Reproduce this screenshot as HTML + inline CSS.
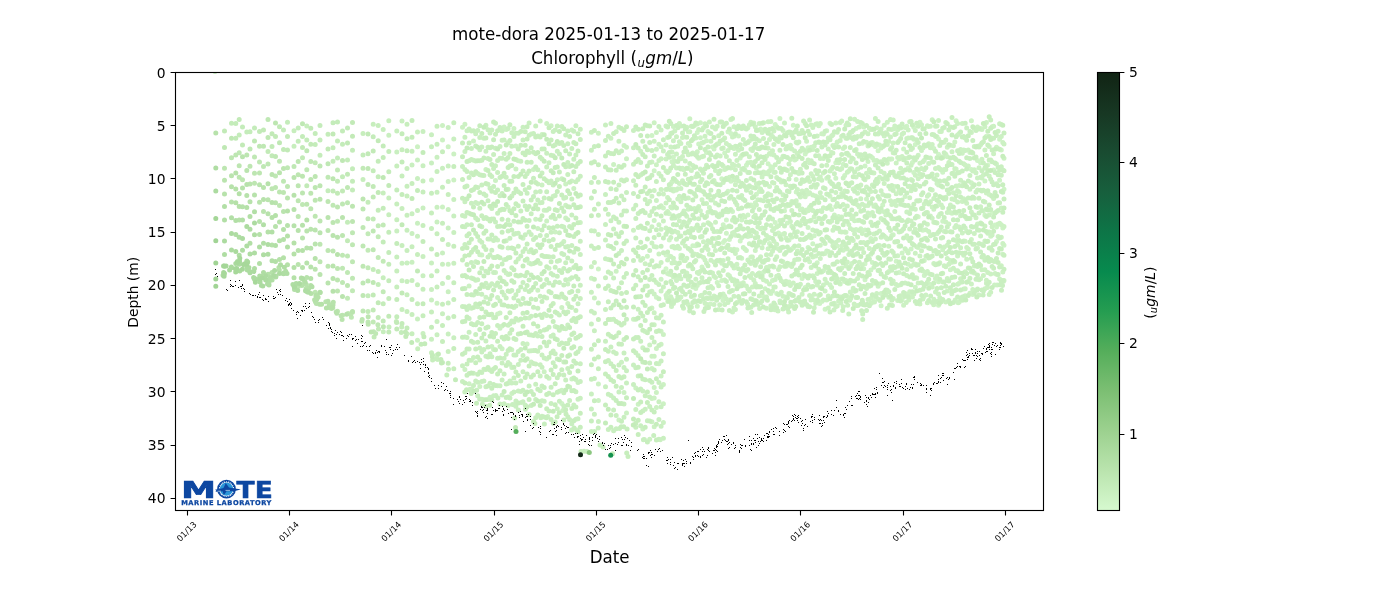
<!DOCTYPE html>
<html lang="en"><head><meta charset="utf-8"><title>mote-dora Chlorophyll</title>
<style>html,body{margin:0;padding:0;background:#fff}svg{display:block}text{font-family:"DejaVu Sans","Liberation Sans",sans-serif;fill:#000}.i{font-style:oblique}.lg{font-family:"Liberation Sans","DejaVu Sans",sans-serif;font-weight:bold;fill:#0d47a1}</style></head><body>
<svg width="1400" height="600" viewBox="0 0 1400 600">
<rect width="1400" height="600" fill="#fff"/>
<defs><linearGradient id="cg" x1="0" y1="1" x2="0" y2="0"><stop offset="0.0000" stop-color="rgb(214,249,207)"/><stop offset="0.0909" stop-color="rgb(186,228,174)"/><stop offset="0.1818" stop-color="rgb(156,209,143)"/><stop offset="0.2727" stop-color="rgb(124,191,115)"/><stop offset="0.3636" stop-color="rgb(85,174,91)"/><stop offset="0.4545" stop-color="rgb(37,157,81)"/><stop offset="0.5455" stop-color="rgb(7,138,78)"/><stop offset="0.6364" stop-color="rgb(13,117,71)"/><stop offset="0.7273" stop-color="rgb(23,95,61)"/><stop offset="0.8182" stop-color="rgb(25,75,49)"/><stop offset="0.9091" stop-color="rgb(23,55,35)"/><stop offset="1.0000" stop-color="rgb(17,36,20)"/></linearGradient><clipPath id="ac"><rect x="175.5" y="72.5" width="868" height="438"/></clipPath></defs>
<g clip-path="url(#ac)" fill="none" stroke-linecap="round" stroke-width="5">
<path stroke="rgb(209,245,201)" d="M666.0 254.9h0M666.0 268.8h0M669.3 240.1h0M680.9 255.2h0M712.5 200.0h0M723.2 242.5h0M726.4 220.1h0M728.0 226.7h0M857.6 220.4h0M865.0 263.8h0M873.9 297.8h0M918.2 216.8h0M938.5 154.2h0M986.4 136.2h0M987.8 165.1h0M992.1 212.8h0"/>
<path stroke="rgb(206,243,198)" d="M481.8 254.9h0M529.1 263.1h0M561.8 403.4h0M598.4 269.0h0M647.4 256.3h0M651.9 135.4h0M654.2 170.7h0M654.2 220.5h0M656.4 297.3h0M661.1 279.3h0M663.4 208.1h0M669.3 170.7h0M669.3 213.7h0M669.3 255.9h0M672.0 161.7h0M672.0 189.1h0M672.0 207.9h0M673.4 156.9h0M679.4 248.5h0M679.4 299.0h0M683.9 169.7h0M692.8 184.3h0M692.8 245.7h0M695.8 245.7h0M695.8 288.6h0M697.3 132.4h0M697.3 306.3h0M698.7 144.1h0M700.4 122.7h0M700.4 137.8h0M700.4 210.8h0M702.0 199.7h0M702.0 267.0h0M706.5 140.7h0M706.5 152.6h0M708.0 131.6h0M709.4 207.4h0M710.2 304.1h0M712.5 146.9h0M714.0 149.0h0M715.5 183.6h0M715.5 238.6h0M717.2 282.6h0M718.7 143.7h0M721.8 178.8h0M721.8 280.6h0M721.8 296.5h0M723.2 224.7h0M723.0 300.4h0M724.7 152.9h0M724.7 240.5h0M726.4 233.2h0M728.0 131.7h0M728.0 191.2h0M729.4 239.4h0M730.9 133.6h0M730.9 181.3h0M732.5 211.4h0M736.9 249.7h0M738.5 136.0h0M740.2 158.1h0M740.2 241.1h0M741.7 220.1h0M741.7 258.2h0M744.9 143.9h0M746.4 165.3h0M747.9 214.9h0M747.9 236.4h0M749.4 140.8h0M750.9 205.0h0M750.9 256.9h0M755.3 202.8h0M756.4 168.1h0M756.4 194.2h0M757.9 186.5h0M759.3 191.4h0M760.6 128.9h0M763.5 272.3h0M763.5 296.6h0M765.1 288.7h0M768.1 163.8h0M769.5 139.5h0M769.5 186.4h0M769.5 237.6h0M769.5 243.4h0M770.9 154.3h0M770.9 166.7h0M770.9 293.5h0M772.5 167.9h0M772.5 280.4h0M773.9 172.2h0M773.9 267.1h0M775.2 124.5h0M775.2 222.4h0M776.7 293.6h0M778.5 232.9h0M779.9 118.4h0M779.9 179.7h0M783.0 234.2h0M784.5 210.8h0M786.0 206.2h0M787.4 223.1h0M789.0 240.1h0M789.0 281.9h0M790.4 145.2h0M790.4 294.3h0M791.8 249.1h0M793.3 125.2h0M793.3 247.7h0M794.7 159.9h0M796.2 179.6h0M796.2 191.9h0M798.9 224.1h0M802.1 278.5h0M803.6 181.6h0M805.2 154.1h0M805.2 287.6h0M808.1 147.8h0M808.1 227.4h0M808.1 247.6h0M809.6 261.7h0M812.8 243.7h0M814.2 235.7h0M817.2 262.7h0M818.8 125.7h0M819.7 303.6h0M821.8 301.6h0M825.1 253.5h0M825.1 291.1h0M825.1 309.2h0M826.7 130.7h0M826.7 178.2h0M826.7 250.9h0M830.0 123.2h0M830.0 196.3h0M830.0 284.8h0M831.6 168.9h0M831.6 209.5h0M832.9 134.8h0M832.9 184.2h0M834.4 303.3h0M835.8 145.1h0M835.8 162.7h0M835.8 178.3h0M837.2 246.1h0M838.6 216.4h0M843.2 148.4h0M843.2 164.3h0M844.7 175.5h0M846.0 153.4h0M846.0 232.3h0M847.3 296.5h0M848.8 170.9h0M848.8 298.3h0M851.8 263.4h0M856.1 128.4h0M856.1 229.4h0M857.6 168.9h0M859.2 207.0h0M860.8 228.8h0M862.3 143.2h0M863.7 127.1h0M863.7 268.7h0M865.0 165.9h0M865.0 230.0h0M865.0 279.8h0M866.5 199.1h0M869.4 215.3h0M870.9 238.6h0M870.9 270.1h0M872.4 262.4h0M873.9 283.2h0M878.1 150.8h0M881.1 293.6h0M881.1 305.8h0M882.7 205.0h0M885.8 277.6h0M888.8 271.5h0M890.5 159.2h0M891.8 159.1h0M891.8 218.7h0M893.2 234.7h0M894.8 186.5h0M896.2 241.7h0M896.2 261.2h0M899.1 140.7h0M899.1 272.6h0M902.1 253.1h0M902.1 299.7h0M903.6 149.1h0M905.1 196.6h0M906.8 126.3h0M906.8 250.8h0M908.2 167.9h0M908.2 264.2h0M911.1 179.5h0M911.1 248.9h0M910.1 295.1h0M912.4 162.6h0M913.8 127.3h0M913.8 172.6h0M915.3 144.6h0M915.3 287.3h0M916.7 278.0h0M918.2 247.4h0M919.9 122.3h0M922.9 230.2h0M924.3 160.2h0M924.3 238.8h0M924.3 260.6h0M924.3 275.4h0M923.5 296.9h0M927.4 125.8h0M930.4 284.5h0M933.8 148.4h0M937.0 136.8h0M937.0 205.9h0M937.0 233.8h0M938.5 139.0h0M938.5 281.7h0M938.5 305.2h0M939.8 156.3h0M939.8 168.9h0M939.8 214.2h0M942.7 172.2h0M942.7 221.3h0M942.7 249.8h0M944.2 231.3h0M950.4 212.4h0M950.4 269.7h0M954.8 142.0h0M956.1 120.8h0M956.1 169.1h0M959.2 133.5h0M959.2 185.4h0M959.2 192.2h0M959.2 283.3h0M959.2 301.9h0M969.9 152.4h0M971.4 120.7h0M971.4 169.4h0M971.4 182.7h0M971.4 239.6h0M972.7 294.5h0M977.5 160.6h0M977.5 207.6h0M980.6 144.8h0M980.6 162.7h0M980.6 278.7h0M981.9 244.2h0M983.4 210.9h0M984.9 181.1h0M984.9 215.2h0M990.7 236.3h0M992.1 126.8h0M993.6 170.0h0M995.1 225.0h0M995.1 261.4h0M996.5 147.3h0M996.5 164.0h0M996.5 211.7h0M996.5 227.1h0M996.5 241.6h0M999.6 139.2h0M999.6 180.3h0M1001.3 149.9h0M1002.8 228.1h0M1004.0 189.2h0M1004.0 245.2h0"/>
<path stroke="rgb(204,241,195)" d="M417.5 146.8h0M417.5 340.3h0M431.5 180.0h0M437.0 303.3h0M437.0 354.9h0M437.7 359.5h0M442.5 125.4h0M442.5 140.0h0M442.5 207.0h0M448.2 146.7h0M448.2 264.3h0M453.8 154.1h0M453.8 180.1h0M462.5 127.3h0M464.9 124.3h0M464.9 369.4h0M469.1 285.9h0M469.1 383.7h0M473.5 141.1h0M475.7 261.8h0M479.8 160.7h0M479.8 254.7h0M479.8 386.4h0M485.9 169.4h0M485.9 297.3h0M491.8 346.4h0M493.6 317.8h0M493.6 349.4h0M495.5 180.5h0M495.5 272.4h0M497.6 240.1h0M497.6 297.5h0M497.6 314.0h0M497.6 385.7h0M500.0 313.0h0M500.0 328.3h0M502.1 325.9h0M502.1 348.8h0M504.1 127.1h0M504.1 259.8h0M504.1 294.9h0M506.2 129.4h0M506.2 240.8h0M506.2 272.9h0M508.1 207.0h0M508.1 247.9h0M508.1 274.5h0M511.8 349.8h0M511.8 367.6h0M511.8 393.6h0M513.9 128.6h0M513.9 307.6h0M515.9 146.0h0M515.9 168.9h0M518.3 160.7h0M518.3 258.9h0M518.3 320.2h0M521.4 402.5h0M523.0 238.3h0M527.1 343.9h0M529.1 251.7h0M529.1 318.1h0M529.1 414.4h0M531.2 134.1h0M531.2 361.9h0M533.5 169.5h0M535.7 219.2h0M537.8 228.5h0M537.8 290.3h0M540.2 263.6h0M542.0 134.5h0M542.0 185.0h0M544.2 210.2h0M544.2 371.7h0M546.7 123.5h0M546.7 221.1h0M546.7 297.9h0M546.7 358.9h0M549.0 268.2h0M549.0 378.3h0M547.8 416.5h0M551.1 125.8h0M553.2 196.3h0M555.2 231.9h0M555.2 326.4h0M557.3 179.8h0M557.3 408.7h0M559.4 297.2h0M561.8 178.7h0M561.8 307.4h0M561.8 390.2h0M562.8 410.6h0M563.8 241.4h0M565.7 184.0h0M565.7 205.2h0M565.7 218.0h0M567.8 284.1h0M567.8 303.4h0M569.6 279.2h0M571.8 130.0h0M571.8 181.0h0M571.8 307.6h0M571.8 379.1h0M573.8 188.5h0M576.7 429.9h0M580.3 222.6h0M591.4 266.7h0M591.4 278.3h0M594.4 298.1h0M598.4 133.3h0M598.4 384.0h0M598.4 400.5h0M608.3 259.4h0M610.9 138.3h0M613.6 164.4h0M616.2 271.3h0M618.9 420.1h0M621.5 362.2h0M624.0 145.6h0M624.0 392.6h0M626.5 147.2h0M626.5 158.8h0M626.5 413.0h0M633.5 230.3h0M633.5 319.3h0M635.8 388.1h0M638.2 404.3h0M640.7 151.3h0M640.7 174.9h0M642.8 258.6h0M642.8 347.8h0M642.8 429.1h0M645.2 263.7h0M645.2 331.4h0M644.4 439.4h0M647.4 125.7h0M649.7 201.2h0M649.7 215.4h0M649.7 344.9h0M649.7 439.3h0M651.9 162.0h0M651.9 196.2h0M651.9 226.7h0M651.9 243.1h0M651.9 291.2h0M651.9 308.0h0M651.9 356.2h0M651.9 368.4h0M651.9 398.5h0M651.9 421.8h0M654.2 122.7h0M654.2 141.2h0M654.2 190.5h0M654.2 246.6h0M654.2 267.1h0M654.2 294.1h0M654.2 312.8h0M654.2 324.7h0M654.2 356.3h0M654.2 387.6h0M654.2 398.0h0M654.2 426.8h0M656.4 132.5h0M656.4 149.3h0M656.4 164.8h0M656.4 200.6h0M656.4 247.1h0M656.4 282.5h0M656.4 348.4h0M656.4 392.4h0M656.4 407.4h0M658.9 144.3h0M658.9 160.5h0M658.9 173.4h0M658.9 224.8h0M658.9 254.1h0M658.9 265.9h0M658.9 363.7h0M661.1 130.0h0M661.1 146.8h0M661.1 158.8h0M661.1 189.4h0M661.1 205.7h0M661.1 229.3h0M661.1 262.5h0M661.1 290.9h0M661.1 331.3h0M661.1 344.2h0M661.1 376.0h0M660.2 439.8h0M663.4 150.9h0M663.4 194.0h0M663.4 221.0h0M663.4 287.0h0M663.4 334.4h0M663.4 384.6h0M663.4 403.8h0M663.4 422.5h0M666.0 125.9h0M666.0 145.0h0M666.0 159.0h0M666.0 170.9h0M666.0 189.5h0M666.0 203.0h0M666.0 228.1h0M666.0 295.2h0M666.5 298.0h0M667.6 137.6h0M667.6 197.5h0M667.6 211.5h0M667.6 260.1h0M667.6 273.4h0M667.6 293.0h0M667.8 301.4h0M669.3 274.2h0M669.3 300.4h0M670.8 133.5h0M670.8 146.9h0M670.8 183.7h0M670.8 206.9h0M670.8 237.6h0M670.8 256.4h0M670.8 296.8h0M671.5 306.6h0M672.0 151.9h0M672.0 181.8h0M672.0 246.8h0M672.0 263.0h0M672.0 275.1h0M672.0 299.3h0M673.4 126.5h0M673.4 140.8h0M673.4 165.4h0M673.4 191.0h0M673.4 246.5h0M673.4 258.3h0M673.4 277.1h0M673.4 288.5h0M673.4 303.5h0M674.8 131.0h0M674.8 161.3h0M674.8 179.4h0M674.8 189.4h0M674.8 231.2h0M674.8 247.9h0M674.8 262.5h0M676.5 136.7h0M676.5 154.1h0M676.5 168.0h0M676.5 190.0h0M676.5 239.2h0M676.5 247.8h0M676.5 280.6h0M677.8 146.2h0M677.8 188.8h0M677.8 199.1h0M677.8 216.2h0M677.8 232.4h0M677.8 246.3h0M677.8 264.0h0M677.8 277.0h0M677.8 299.9h0M679.4 123.5h0M679.4 141.7h0M679.4 158.6h0M679.4 183.4h0M679.4 196.3h0M679.4 220.7h0M679.4 289.2h0M680.9 125.9h0M680.9 143.4h0M680.9 158.8h0M680.9 168.9h0M680.9 188.4h0M680.9 201.8h0M680.9 235.9h0M680.9 278.7h0M680.9 296.9h0M682.5 137.4h0M682.5 156.5h0M682.5 168.3h0M682.5 180.8h0M682.5 224.8h0M682.5 243.0h0M683.9 137.0h0M683.9 211.1h0M683.9 260.4h0M683.5 308.2h0M685.3 161.1h0M685.3 184.3h0M685.3 245.9h0M685.3 260.5h0M685.3 302.8h0M686.8 127.2h0M686.8 184.8h0M686.8 216.2h0M686.8 258.3h0M686.8 273.1h0M686.8 286.5h0M688.3 131.7h0M688.3 143.5h0M688.3 154.8h0M688.3 168.2h0M688.3 179.3h0M688.3 198.1h0M688.3 209.2h0M688.3 222.4h0M688.3 266.0h0M688.3 279.4h0M688.3 304.6h0M689.8 118.8h0M689.8 131.7h0M689.8 145.6h0M689.8 207.4h0M691.4 126.2h0M691.4 170.5h0M691.4 192.0h0M691.4 228.5h0M691.4 236.8h0M692.8 152.9h0M692.8 165.4h0M692.8 286.9h0M694.4 125.6h0M694.4 153.7h0M694.4 208.6h0M694.4 254.0h0M695.8 137.9h0M695.8 176.8h0M695.8 227.7h0M695.8 260.5h0M695.8 279.2h0M695.8 301.8h0M697.3 124.1h0M697.3 151.7h0M697.3 243.9h0M697.3 254.4h0M697.3 272.5h0M697.3 285.5h0M698.7 129.5h0M698.7 158.3h0M698.7 187.0h0M698.7 206.6h0M698.7 218.7h0M698.7 230.6h0M698.7 273.5h0M698.7 283.4h0M700.4 169.1h0M700.4 181.7h0M700.4 237.1h0M700.4 255.8h0M700.4 271.2h0M700.4 295.7h0M702.0 143.1h0M702.0 156.8h0M702.0 236.4h0M702.0 277.7h0M702.0 295.2h0M703.5 127.7h0M703.5 142.3h0M703.5 156.2h0M703.5 173.3h0M703.5 224.8h0M703.5 241.7h0M703.5 257.6h0M705.0 123.7h0M705.0 136.3h0M705.0 247.5h0M705.0 260.0h0M705.0 303.2h0M706.5 165.2h0M706.5 203.4h0M706.5 216.2h0M706.5 263.3h0M706.5 298.0h0M706.4 304.2h0M708.0 183.8h0M708.0 212.3h0M708.0 222.8h0M708.0 249.4h0M709.4 122.1h0M709.4 133.1h0M709.4 241.9h0M709.4 254.2h0M710.9 141.3h0M710.9 224.9h0M710.9 260.2h0M710.9 272.3h0M710.9 286.6h0M712.5 126.9h0M712.5 273.0h0M712.5 288.2h0M712.2 298.9h0M714.0 180.5h0M714.0 212.6h0M714.0 246.0h0M714.0 262.1h0M714.0 276.2h0M714.0 295.9h0M714.0 304.5h0M715.5 129.0h0M715.5 170.6h0M715.5 203.3h0M715.5 212.8h0M715.5 222.2h0M715.5 250.4h0M715.5 277.5h0M717.2 126.2h0M717.2 144.0h0M717.2 155.1h0M717.2 194.8h0M717.2 231.4h0M717.2 297.9h0M718.7 135.8h0M718.7 216.8h0M718.7 261.0h0M718.7 285.8h0M718.7 309.5h0M720.2 122.1h0M720.2 156.0h0M720.2 214.1h0M719.7 304.8h0M721.8 263.2h0M723.2 148.1h0M723.2 166.1h0M723.2 182.5h0M723.2 260.4h0M723.2 270.6h0M723.2 294.0h0M724.7 124.6h0M724.7 138.0h0M724.7 169.4h0M724.7 211.7h0M724.7 227.4h0M724.7 280.0h0M724.7 296.3h0M724.7 304.5h0M726.4 143.6h0M726.4 156.4h0M726.4 168.4h0M726.4 299.1h0M728.0 150.4h0M728.0 211.8h0M728.0 274.8h0M728.0 302.5h0M729.4 145.5h0M729.4 177.3h0M729.4 198.3h0M729.4 249.4h0M729.4 275.7h0M729.4 292.0h0M730.9 119.4h0M730.9 168.0h0M730.9 209.6h0M730.9 249.6h0M732.5 137.1h0M732.5 147.5h0M732.5 164.2h0M732.5 220.2h0M732.5 232.9h0M732.5 290.5h0M732.5 311.9h0M734.0 126.8h0M734.0 136.2h0M734.0 148.4h0M734.0 165.2h0M734.0 180.1h0M734.0 232.2h0M734.0 249.3h0M734.0 267.9h0M734.0 279.8h0M734.0 296.2h0M734.0 308.1h0M735.4 146.2h0M735.4 154.2h0M735.4 169.8h0M735.4 184.7h0M735.4 235.3h0M735.4 253.6h0M735.4 265.7h0M735.4 284.6h0M735.4 309.5h0M736.9 160.6h0M736.9 204.7h0M736.9 264.3h0M736.9 302.5h0M738.5 150.3h0M738.5 165.4h0M738.5 181.1h0M738.5 197.1h0M740.2 283.8h0M741.7 155.6h0M741.7 169.3h0M741.7 195.6h0M741.7 237.8h0M743.3 139.4h0M743.3 184.4h0M743.3 199.3h0M743.3 215.4h0M743.3 247.4h0M743.3 282.7h0M744.9 128.0h0M744.9 169.9h0M744.9 216.9h0M744.9 249.1h0M746.4 234.7h0M746.4 250.5h0M746.4 285.9h0M747.6 304.0h0M747.9 127.7h0M747.9 162.8h0M747.9 172.5h0M747.9 187.8h0M747.9 260.0h0M747.9 288.8h0M749.4 124.7h0M749.4 156.7h0M749.4 206.1h0M749.4 243.7h0M749.4 276.0h0M749.4 290.9h0M750.9 122.2h0M750.9 149.3h0M750.9 162.2h0M750.9 178.6h0M750.9 235.8h0M750.9 263.4h0M750.9 277.6h0M750.9 307.3h0M752.4 150.4h0M752.4 164.9h0M752.4 187.5h0M752.4 257.1h0M752.4 273.4h0M752.4 287.1h0M753.8 122.9h0M753.8 207.5h0M753.8 217.1h0M753.8 279.9h0M755.3 126.7h0M755.3 173.0h0M755.3 215.2h0M755.3 250.5h0M755.3 283.5h0M756.4 183.8h0M756.4 205.0h0M756.4 233.1h0M756.4 262.5h0M757.9 199.8h0M757.9 226.9h0M759.3 123.4h0M759.3 140.7h0M759.3 272.9h0M759.3 296.1h0M759.6 308.5h0M760.6 147.8h0M760.6 188.9h0M760.6 228.8h0M760.6 241.9h0M760.6 256.8h0M762.1 132.4h0M762.1 177.0h0M762.1 228.1h0M762.1 247.8h0M762.1 261.5h0M763.5 122.7h0M763.5 138.5h0M763.5 171.9h0M763.5 214.9h0M763.5 243.0h0M763.5 279.7h0M765.1 173.7h0M765.1 184.8h0M765.1 196.7h0M765.1 298.2h0M766.5 131.2h0M766.5 156.3h0M766.5 172.7h0M766.5 206.1h0M766.5 235.6h0M766.5 254.8h0M766.5 267.6h0M766.5 281.2h0M766.5 297.1h0M766.4 308.2h0M768.1 121.8h0M768.1 148.2h0M768.1 174.0h0M768.1 193.8h0M768.1 238.6h0M768.1 248.7h0M769.5 153.5h0M769.5 170.7h0M769.5 266.6h0M769.5 284.1h0M769.5 292.4h0M770.9 121.4h0M770.9 134.7h0M770.9 194.9h0M770.9 225.4h0M770.9 254.5h0M770.9 305.7h0M772.5 136.4h0M772.5 150.8h0M772.5 182.4h0M772.5 219.1h0M772.5 230.4h0M772.5 251.2h0M772.5 290.9h0M773.9 131.1h0M773.9 144.4h0M773.9 155.1h0M773.9 183.0h0M773.9 201.8h0M773.9 210.4h0M773.9 228.7h0M773.9 241.3h0M773.9 286.9h0M774.2 307.7h0M775.2 164.8h0M775.2 172.3h0M775.2 247.0h0M775.2 279.5h0M775.2 287.0h0M775.2 305.1h0M774.9 309.7h0M776.7 126.7h0M776.7 177.4h0M776.7 187.5h0M776.7 207.7h0M776.7 226.9h0M776.7 244.3h0M776.7 256.7h0M776.7 276.3h0M778.5 141.4h0M778.5 225.7h0M778.5 248.9h0M778.5 269.5h0M778.5 275.3h0M778.0 311.1h0M779.9 220.5h0M779.9 250.5h0M779.9 266.7h0M779.9 301.1h0M781.3 159.0h0M781.3 181.9h0M781.3 200.3h0M781.3 280.7h0M781.3 292.3h0M783.0 130.4h0M783.0 156.3h0M783.0 194.7h0M783.0 261.7h0M783.0 281.9h0M783.0 296.2h0M784.5 123.0h0M784.5 169.1h0M784.5 199.4h0M784.5 233.4h0M784.5 254.3h0M786.0 149.1h0M786.0 184.8h0M786.0 237.9h0M786.0 266.2h0M786.0 281.3h0M786.0 297.0h0M787.4 146.6h0M787.4 170.4h0M787.4 283.8h0M789.0 132.0h0M789.0 148.0h0M789.0 164.1h0M789.0 205.4h0M789.0 250.2h0M789.0 264.1h0M789.0 306.5h0M788.6 312.1h0M790.4 159.6h0M790.4 174.7h0M790.4 186.2h0M790.4 221.6h0M790.4 265.5h0M790.4 285.5h0M791.8 149.0h0M791.8 201.6h0M791.8 210.4h0M791.8 226.3h0M791.8 237.3h0M791.8 266.5h0M791.8 295.1h0M793.3 171.4h0M793.3 214.8h0M793.3 283.0h0M794.7 151.0h0M794.7 186.2h0M794.7 203.1h0M794.7 259.9h0M796.2 142.2h0M796.2 159.1h0M796.2 200.8h0M796.2 300.0h0M797.4 153.6h0M797.4 172.5h0M797.4 189.5h0M797.4 231.8h0M797.4 251.0h0M797.4 259.3h0M797.4 271.3h0M797.4 300.6h0M798.9 173.5h0M798.9 204.9h0M798.9 245.7h0M798.9 259.3h0M800.4 169.3h0M800.4 197.0h0M800.4 209.7h0M800.4 284.2h0M802.1 190.9h0M802.1 208.9h0M802.1 220.7h0M802.1 294.2h0M803.6 274.4h0M805.2 196.7h0M805.2 212.5h0M805.2 238.7h0M806.6 141.2h0M806.6 151.5h0M806.6 190.3h0M806.6 209.9h0M806.6 221.5h0M806.6 276.3h0M808.1 160.0h0M808.1 194.1h0M808.1 210.8h0M809.6 120.1h0M809.6 162.8h0M809.6 181.5h0M809.6 192.8h0M809.6 207.3h0M809.6 295.5h0M811.2 125.0h0M811.2 147.3h0M811.2 160.7h0M811.2 173.7h0M811.2 209.2h0M811.2 220.3h0M811.2 237.7h0M811.2 267.4h0M811.2 296.6h0M811.0 300.0h0M812.8 127.6h0M812.8 149.4h0M812.8 176.3h0M812.8 195.1h0M812.8 210.6h0M812.8 230.0h0M812.8 256.9h0M812.8 275.7h0M812.8 299.6h0M814.2 146.1h0M814.2 216.7h0M814.2 294.2h0M814.2 307.7h0M815.7 124.2h0M815.7 187.3h0M815.7 196.1h0M815.7 249.7h0M815.7 255.9h0M815.7 281.6h0M815.7 303.2h0M817.2 123.7h0M817.2 135.9h0M817.2 231.1h0M817.2 273.6h0M817.2 284.9h0M817.2 300.0h0M818.8 155.7h0M818.8 178.8h0M818.8 197.4h0M818.8 269.2h0M818.8 295.5h0M820.3 123.6h0M820.3 142.8h0M820.3 158.4h0M820.3 177.0h0M820.3 192.7h0M820.3 210.7h0M820.3 218.9h0M820.3 245.3h0M820.3 258.5h0M820.3 287.7h0M821.8 133.7h0M821.8 180.3h0M821.8 197.4h0M821.8 211.6h0M821.8 272.0h0M823.4 133.9h0M823.4 158.6h0M823.4 173.1h0M823.4 187.7h0M823.4 207.7h0M823.4 253.9h0M823.4 270.8h0M823.4 285.0h0M823.4 300.1h0M825.1 243.4h0M825.1 279.3h0M826.7 165.2h0M826.7 193.9h0M826.7 208.5h0M826.7 267.9h0M826.7 282.7h0M826.7 300.0h0M828.3 138.1h0M828.3 149.0h0M828.3 237.9h0M828.3 251.6h0M828.3 296.1h0M828.3 308.0h0M830.0 170.9h0M830.0 205.8h0M830.0 222.3h0M831.6 135.9h0M831.6 152.5h0M831.6 220.9h0M831.6 272.8h0M831.6 287.4h0M831.6 304.1h0M832.9 145.4h0M832.9 153.1h0M832.9 199.7h0M832.9 230.2h0M832.9 245.7h0M832.9 264.3h0M834.4 173.8h0M834.4 215.1h0M834.4 227.0h0M833.9 310.1h0M835.8 123.0h0M835.8 192.6h0M835.8 206.5h0M835.8 228.0h0M835.8 242.5h0M835.8 306.8h0M837.2 142.0h0M837.2 203.6h0M837.2 261.7h0M837.2 305.9h0M838.6 162.8h0M838.6 228.2h0M838.6 240.3h0M838.6 300.9h0M840.2 122.4h0M840.2 140.6h0M840.2 169.6h0M840.2 231.7h0M840.2 283.9h0M840.2 297.1h0M840.9 302.9h0M841.7 120.9h0M841.7 136.2h0M841.7 168.5h0M841.7 193.6h0M841.7 196.5h0M841.7 217.0h0M841.7 232.1h0M841.7 245.8h0M841.7 267.9h0M841.7 279.0h0M843.2 177.9h0M843.2 204.4h0M843.2 250.2h0M843.2 306.7h0M844.7 147.0h0M844.7 190.9h0M844.7 232.0h0M844.7 243.9h0M844.7 281.6h0M844.7 295.5h0M846.0 125.3h0M846.0 138.2h0M846.0 266.0h0M846.0 280.6h0M847.3 172.3h0M847.3 206.1h0M847.3 248.9h0M847.3 261.9h0M847.7 305.2h0M848.8 155.2h0M848.8 224.4h0M848.8 254.4h0M848.8 283.2h0M850.3 132.4h0M850.3 161.8h0M850.3 168.7h0M850.3 198.2h0M850.3 214.7h0M850.3 228.4h0M850.3 266.4h0M850.3 292.0h0M849.8 300.3h0M851.8 218.8h0M851.8 281.0h0M850.7 298.6h0M853.2 139.2h0M853.2 158.9h0M853.2 188.9h0M853.2 216.5h0M853.2 229.9h0M853.2 240.6h0M853.2 288.2h0M854.6 119.3h0M854.6 203.4h0M854.6 220.7h0M854.6 233.8h0M854.6 291.3h0M854.2 304.1h0M856.1 149.4h0M856.1 177.0h0M856.1 187.2h0M856.1 254.2h0M856.1 297.4h0M856.2 305.6h0M857.6 121.5h0M857.6 136.6h0M857.6 154.1h0M857.6 193.2h0M857.6 205.0h0M857.6 236.9h0M857.6 278.4h0M857.9 305.6h0M859.2 127.1h0M859.2 156.3h0M859.2 188.3h0M859.2 230.5h0M859.2 262.2h0M860.8 136.2h0M860.8 185.1h0M860.8 198.8h0M862.3 204.2h0M862.3 221.4h0M862.3 233.5h0M862.3 248.4h0M862.3 264.7h0M862.3 286.6h0M862.8 302.5h0M863.7 242.5h0M863.7 252.4h0M865.0 132.1h0M865.0 179.7h0M865.0 205.8h0M865.0 242.9h0M866.5 142.2h0M866.5 173.3h0M866.5 186.9h0M866.5 288.4h0M868.0 133.7h0M868.0 146.1h0M868.0 161.4h0M868.0 205.4h0M868.0 213.1h0M868.0 299.4h0M869.4 128.3h0M869.4 169.5h0M869.4 248.6h0M869.4 286.3h0M870.9 129.6h0M870.9 156.4h0M870.9 191.4h0M870.9 222.2h0M870.9 254.3h0M870.9 298.5h0M871.2 303.2h0M872.4 142.5h0M872.4 157.8h0M872.4 172.7h0M872.4 184.9h0M872.4 212.4h0M873.9 144.9h0M873.9 160.3h0M873.9 173.1h0M873.9 206.3h0M873.9 234.1h0M873.9 267.2h0M874.5 301.9h0M875.4 118.4h0M875.4 146.4h0M875.4 205.0h0M875.4 239.0h0M875.4 281.6h0M876.7 127.7h0M876.7 160.5h0M876.7 225.9h0M876.7 293.4h0M878.1 134.0h0M878.1 181.8h0M878.1 245.5h0M878.1 286.2h0M878.1 299.1h0M879.5 145.0h0M879.5 177.3h0M879.5 199.0h0M879.5 231.1h0M879.5 245.5h0M879.5 284.0h0M881.1 129.0h0M881.1 148.0h0M881.1 171.6h0M881.1 190.7h0M881.1 218.5h0M881.1 237.2h0M882.7 146.8h0M882.7 194.4h0M882.7 219.8h0M884.2 125.2h0M884.2 136.1h0M884.2 159.6h0M884.2 173.2h0M884.2 183.6h0M884.2 211.8h0M884.2 236.1h0M884.2 255.2h0M883.9 293.9h0M885.8 132.8h0M885.8 215.0h0M885.8 237.5h0M887.3 122.3h0M887.3 144.6h0M887.3 163.2h0M887.3 196.0h0M887.3 238.9h0M888.8 141.5h0M888.8 159.1h0M888.8 246.3h0M888.8 297.3h0M890.5 119.4h0M890.5 136.9h0M890.5 188.9h0M890.5 200.7h0M890.5 230.4h0M890.5 259.3h0M891.8 129.5h0M891.8 147.4h0M891.8 204.4h0M891.8 235.5h0M893.2 119.9h0M893.2 129.0h0M893.2 143.0h0M893.2 152.8h0M893.2 203.1h0M893.2 266.6h0M893.2 281.1h0M893.2 298.6h0M894.8 125.9h0M894.8 201.4h0M894.8 211.5h0M896.2 133.8h0M896.2 163.1h0M896.2 176.7h0M896.2 193.8h0M896.2 205.4h0M896.2 219.1h0M896.2 284.5h0M897.7 129.8h0M897.7 157.6h0M897.7 200.2h0M897.7 255.7h0M897.7 266.3h0M897.7 285.5h0M897.7 300.6h0M899.1 158.9h0M899.1 173.2h0M899.1 190.0h0M899.1 231.9h0M899.1 246.3h0M900.7 157.3h0M900.7 168.3h0M900.7 178.1h0M900.7 220.1h0M900.7 284.8h0M900.7 295.8h0M902.1 134.3h0M902.1 156.6h0M903.6 132.9h0M903.6 305.2h0M905.1 127.6h0M905.1 158.6h0M905.1 248.7h0M905.1 283.1h0M905.1 293.6h0M906.8 138.4h0M906.8 212.0h0M906.8 235.7h0M906.8 269.6h0M906.8 275.6h0M906.8 294.7h0M906.2 302.5h0M908.2 129.9h0M908.2 138.0h0M908.2 157.8h0M908.2 186.4h0M908.2 219.9h0M908.2 238.6h0M908.2 252.9h0M908.8 300.1h0M909.7 121.7h0M909.7 186.3h0M909.7 197.8h0M909.7 229.0h0M909.7 291.7h0M911.1 137.7h0M911.1 165.2h0M911.1 190.7h0M911.1 209.2h0M911.1 221.1h0M911.1 266.3h0M912.5 296.9h0M913.8 139.2h0M913.8 264.6h0M913.8 293.9h0M915.3 130.4h0M915.3 175.2h0M915.3 209.2h0M915.3 229.2h0M915.3 253.3h0M915.3 264.0h0M915.3 277.7h0M916.7 184.7h0M916.7 200.7h0M916.7 216.2h0M916.7 246.7h0M918.2 155.2h0M918.2 170.6h0M918.2 178.8h0M918.2 283.0h0M919.9 163.2h0M919.9 174.1h0M919.9 200.6h0M919.9 256.0h0M919.9 304.0h0M921.5 124.8h0M921.5 150.6h0M921.5 168.6h0M921.5 176.5h0M921.5 194.7h0M921.5 225.8h0M921.5 250.7h0M922.9 148.0h0M922.9 161.8h0M922.9 208.1h0M922.9 270.9h0M922.9 299.0h0M924.3 169.8h0M924.3 204.1h0M925.9 229.8h0M925.9 256.3h0M925.9 273.6h0M925.9 294.9h0M927.4 157.5h0M927.4 196.3h0M927.4 212.5h0M927.4 224.3h0M927.4 271.5h0M927.4 282.3h0M927.4 302.7h0M928.7 126.4h0M928.7 143.7h0M928.7 163.6h0M928.7 194.7h0M928.7 231.6h0M930.4 126.2h0M930.4 147.8h0M930.4 201.8h0M930.4 215.9h0M930.4 235.7h0M930.4 257.3h0M932.2 119.7h0M932.2 144.5h0M932.2 161.9h0M932.2 190.0h0M932.2 207.0h0M932.2 218.3h0M932.2 234.8h0M932.2 287.0h0M933.8 198.4h0M933.8 209.2h0M933.8 222.3h0M933.8 263.6h0M933.8 299.2h0M933.7 304.7h0M935.5 168.6h0M935.5 278.4h0M935.5 291.9h0M937.0 126.1h0M937.0 175.0h0M937.0 183.5h0M937.0 223.0h0M937.0 264.1h0M937.0 276.1h0M938.5 120.6h0M938.5 167.6h0M938.5 185.0h0M938.5 216.6h0M938.5 293.9h0M939.8 131.6h0M939.8 262.7h0M939.8 297.7h0M941.3 131.4h0M941.3 169.7h0M941.3 204.9h0M942.7 142.6h0M942.7 187.1h0M942.7 207.6h0M942.7 273.3h0M942.7 281.9h0M944.2 142.3h0M944.2 169.4h0M944.2 247.0h0M944.2 265.7h0M945.8 139.9h0M945.8 154.2h0M945.8 169.5h0M945.8 197.2h0M945.8 222.0h0M945.8 266.7h0M945.8 301.9h0M947.3 147.2h0M947.3 156.7h0M947.3 212.6h0M947.3 245.2h0M947.3 258.6h0M947.3 278.6h0M947.3 290.9h0M948.8 162.5h0M948.8 223.9h0M948.8 264.2h0M950.4 145.3h0M950.4 205.0h0M950.4 260.4h0M952.0 151.8h0M952.0 164.4h0M952.0 199.1h0M952.0 213.2h0M952.0 262.2h0M951.8 293.7h0M953.4 145.8h0M953.4 173.0h0M953.4 192.8h0M953.4 268.3h0M954.8 126.7h0M954.8 168.7h0M954.8 199.7h0M954.8 227.5h0M954.8 261.8h0M955.2 299.9h0M956.1 159.5h0M956.1 186.1h0M956.1 212.9h0M956.1 225.5h0M956.1 240.6h0M956.1 270.7h0M957.6 123.4h0M957.6 135.0h0M957.6 190.8h0M957.6 202.1h0M957.6 236.1h0M957.6 244.7h0M957.6 256.0h0M957.6 270.8h0M957.6 284.2h0M958.2 302.7h0M959.2 227.1h0M960.6 149.4h0M960.6 180.3h0M960.6 215.7h0M960.6 247.8h0M960.6 278.8h0M962.3 123.5h0M962.3 153.3h0M962.3 201.6h0M962.3 233.1h0M963.7 150.0h0M963.7 163.7h0M963.7 198.7h0M963.7 240.9h0M963.7 255.2h0M963.7 289.0h0M965.2 138.1h0M965.2 150.6h0M965.2 164.9h0M965.2 228.1h0M965.2 241.2h0M965.2 271.7h0M965.2 288.7h0M965.2 295.7h0M966.7 128.0h0M966.7 203.3h0M966.7 218.8h0M966.7 231.3h0M966.7 247.5h0M966.7 259.3h0M968.3 150.0h0M968.3 166.0h0M968.3 249.1h0M969.9 189.2h0M969.9 218.5h0M969.9 293.2h0M971.4 132.5h0M971.4 211.9h0M971.4 271.9h0M971.4 284.1h0M972.8 171.0h0M972.8 186.6h0M972.8 289.5h0M974.3 146.4h0M974.3 169.8h0M974.3 198.3h0M974.3 233.5h0M974.3 265.9h0M974.3 273.1h0M976.0 172.7h0M976.0 192.1h0M976.0 217.8h0M977.5 127.0h0M977.5 178.0h0M977.5 189.9h0M977.5 224.1h0M977.5 248.0h0M979.0 167.8h0M979.0 183.9h0M979.0 294.9h0M980.6 128.6h0M980.6 177.2h0M980.6 206.8h0M980.6 236.1h0M981.9 129.4h0M981.9 159.2h0M981.9 178.0h0M981.9 269.8h0M983.4 174.9h0M983.4 275.4h0M984.9 126.7h0M984.9 149.9h0M984.9 202.1h0M984.9 225.9h0M984.9 241.1h0M984.9 269.7h0M984.9 288.8h0M986.4 122.6h0M986.4 192.9h0M986.4 258.8h0M986.4 280.3h0M986.4 283.3h0M987.8 233.3h0M987.8 272.4h0M987.5 287.4h0M989.2 146.5h0M989.2 176.0h0M989.2 194.6h0M989.2 215.1h0M989.2 231.9h0M989.2 294.6h0M990.7 195.2h0M990.7 274.1h0M990.7 292.2h0M992.1 226.8h0M992.1 235.1h0M993.6 126.3h0M993.6 153.8h0M993.6 198.5h0M995.1 273.4h0M994.5 285.1h0M996.5 183.8h0M996.5 274.3h0M997.1 285.0h0M998.1 148.7h0M998.1 202.9h0M998.1 223.9h0M998.1 236.5h0M999.6 223.3h0M999.6 279.0h0M1001.3 124.4h0M1001.3 136.6h0M1001.3 207.9h0M1001.3 224.7h0M1001.3 237.2h0M1001.3 265.8h0M1002.8 142.5h0M1002.8 169.9h0M1002.8 243.5h0M1002.8 254.2h0M1002.8 271.9h0M1004.0 144.1h0M1004.0 158.3h0M1004.0 226.6h0M1004.0 280.4h0M1003.6 281.2h0"/>
<path stroke="rgb(201,239,192)" d="M388.8 135.3h0M396.8 152.1h0M396.8 231.1h0M402.0 121.0h0M402.0 263.3h0M402.0 280.8h0M407.0 262.9h0M412.0 165.0h0M412.0 213.8h0M412.0 233.4h0M412.0 262.2h0M417.5 160.1h0M417.5 178.6h0M417.5 210.5h0M417.5 223.3h0M417.5 236.2h0M417.5 318.9h0M423.0 131.6h0M423.0 165.8h0M423.0 208.1h0M423.0 256.5h0M423.0 275.8h0M423.0 333.4h0M431.5 134.8h0M431.5 162.9h0M431.5 263.0h0M431.5 289.6h0M431.5 300.1h0M431.5 339.2h0M437.0 157.2h0M437.0 192.3h0M437.0 207.3h0M437.0 221.9h0M437.0 321.6h0M437.0 334.7h0M442.5 168.3h0M442.5 252.9h0M442.5 264.2h0M442.5 283.6h0M442.5 313.8h0M448.2 127.4h0M448.2 165.9h0M448.2 181.4h0M448.2 209.6h0M448.2 228.1h0M448.2 244.5h0M448.2 291.8h0M448.2 302.9h0M448.2 334.0h0M448.2 351.6h0M448.5 369.2h0M453.8 139.1h0M453.8 199.4h0M453.8 216.1h0M453.8 232.5h0M453.8 263.3h0M453.8 337.8h0M462.5 166.5h0M462.5 215.5h0M462.5 306.6h0M462.5 365.7h0M462.5 381.4h0M464.9 137.3h0M464.9 151.4h0M464.9 169.5h0M464.9 201.7h0M464.9 216.2h0M464.9 226.8h0M464.9 244.5h0M464.9 336.9h0M464.9 352.8h0M464.8 392.1h0M467.0 130.8h0M467.0 186.0h0M467.0 224.7h0M467.0 235.8h0M467.0 277.1h0M467.0 309.5h0M467.0 337.6h0M469.1 129.1h0M469.1 177.4h0M469.1 306.0h0M469.1 318.6h0M469.1 332.2h0M469.1 348.9h0M469.6 389.6h0M471.4 148.4h0M471.4 173.1h0M471.4 203.2h0M471.4 262.6h0M471.4 277.9h0M471.4 308.3h0M471.4 360.3h0M471.4 388.9h0M473.5 160.2h0M473.5 249.5h0M473.5 294.9h0M473.5 342.4h0M473.5 357.6h0M473.5 373.3h0M473.5 385.5h0M475.7 133.7h0M475.7 202.5h0M475.7 218.0h0M475.7 280.3h0M475.7 334.5h0M475.7 381.0h0M476.7 390.2h0M477.7 130.5h0M477.7 173.4h0M477.7 187.6h0M477.7 203.4h0M477.7 219.8h0M477.7 279.7h0M477.7 293.6h0M477.7 306.8h0M477.7 322.4h0M477.7 382.2h0M477.7 395.8h0M479.8 137.5h0M479.8 149.8h0M479.8 174.7h0M479.8 208.3h0M479.8 240.4h0M479.8 348.0h0M479.8 360.0h0M481.8 146.9h0M481.8 185.0h0M481.8 226.7h0M481.8 242.2h0M481.8 268.3h0M481.8 294.3h0M481.8 323.7h0M481.8 352.1h0M481.8 372.5h0M481.8 381.4h0M482.4 403.9h0M483.9 138.2h0M483.9 175.6h0M483.9 193.9h0M483.9 349.6h0M483.9 369.3h0M483.9 381.0h0M483.9 399.7h0M485.9 125.2h0M485.9 151.3h0M485.9 195.6h0M485.9 217.4h0M485.9 271.2h0M485.9 283.3h0M485.9 328.0h0M485.9 341.0h0M485.9 356.3h0M485.9 386.7h0M485.9 406.3h0M488.0 129.7h0M488.0 147.3h0M488.0 158.5h0M488.0 184.2h0M488.0 200.7h0M488.0 239.0h0M488.0 256.9h0M488.0 272.8h0M488.0 327.0h0M488.0 399.5h0M490.0 133.1h0M490.0 188.2h0M490.0 239.1h0M490.0 255.1h0M490.0 285.6h0M490.0 298.9h0M490.0 353.7h0M490.0 370.0h0M490.0 383.2h0M490.0 397.3h0M491.8 130.0h0M491.8 176.5h0M491.8 250.3h0M491.8 283.8h0M491.8 356.8h0M493.6 154.5h0M493.6 168.4h0M493.6 186.4h0M493.6 240.5h0M493.6 257.6h0M493.6 272.4h0M493.6 368.9h0M493.6 395.7h0M495.5 123.3h0M495.5 148.2h0M495.5 165.8h0M495.5 222.1h0M495.5 237.9h0M495.5 285.6h0M495.9 395.6h0M497.6 160.6h0M497.6 172.6h0M497.6 189.9h0M497.6 213.2h0M497.6 266.6h0M497.6 325.5h0M497.6 358.3h0M500.0 127.4h0M500.0 146.5h0M500.0 158.3h0M500.0 177.6h0M500.0 195.8h0M500.0 287.1h0M500.0 300.9h0M500.0 346.5h0M500.0 385.8h0M500.0 404.1h0M502.1 131.0h0M502.1 140.2h0M502.1 158.3h0M502.1 193.4h0M502.1 209.2h0M502.1 264.1h0M502.1 304.7h0M502.1 363.0h0M502.1 379.9h0M502.1 394.9h0M504.1 139.9h0M504.1 153.5h0M504.1 270.6h0M504.1 281.8h0M504.1 358.3h0M504.1 374.1h0M504.1 403.8h0M506.2 177.2h0M506.2 298.1h0M506.2 354.3h0M508.1 128.6h0M508.1 142.7h0M508.1 189.3h0M508.1 220.1h0M508.1 231.0h0M508.1 325.2h0M508.1 350.5h0M508.1 362.4h0M508.1 383.3h0M508.1 405.5h0M509.9 165.9h0M509.9 224.8h0M509.9 238.3h0M509.9 274.1h0M509.9 291.4h0M509.9 323.7h0M509.9 333.3h0M509.9 364.2h0M509.9 381.1h0M509.9 397.9h0M511.8 132.8h0M511.8 146.2h0M511.8 196.1h0M511.8 267.8h0M511.8 290.6h0M511.8 321.1h0M511.8 382.9h0M512.5 404.4h0M513.9 136.5h0M513.9 234.3h0M513.9 298.1h0M513.9 322.1h0M513.9 354.9h0M513.9 378.1h0M513.9 391.9h0M514.0 404.8h0M515.9 133.3h0M515.9 233.4h0M515.9 294.7h0M515.9 306.1h0M515.9 339.4h0M515.9 354.9h0M515.9 383.1h0M515.9 401.1h0M515.8 406.3h0M518.3 133.2h0M518.3 191.7h0M518.3 205.7h0M518.3 233.3h0M518.3 246.3h0M518.3 276.0h0M518.3 290.8h0M518.3 351.4h0M518.3 364.5h0M518.3 390.9h0M518.3 410.0h0M520.8 161.3h0M520.8 211.1h0M520.8 255.9h0M520.8 349.5h0M520.8 360.3h0M520.8 381.0h0M520.8 391.5h0M523.0 127.2h0M523.0 139.9h0M523.0 251.4h0M523.0 282.4h0M523.0 298.6h0M523.0 343.6h0M523.0 355.5h0M523.0 371.8h0M523.0 401.7h0M525.2 189.7h0M525.2 206.0h0M525.2 234.7h0M525.2 248.7h0M525.2 289.6h0M525.2 405.1h0M525.4 409.3h0M527.1 173.8h0M527.1 193.3h0M529.1 123.0h0M529.1 135.3h0M529.1 152.5h0M529.1 220.5h0M529.1 232.0h0M529.1 351.0h0M529.1 385.9h0M531.2 213.7h0M531.2 234.4h0M531.2 263.9h0M531.2 299.0h0M531.2 316.2h0M531.2 350.8h0M531.2 391.5h0M531.2 405.5h0M533.5 133.6h0M533.5 178.2h0M533.5 196.5h0M533.5 239.5h0M533.5 263.6h0M533.5 307.2h0M533.5 350.5h0M533.5 363.4h0M535.7 126.0h0M535.7 192.1h0M535.7 251.3h0M535.7 283.6h0M535.7 333.4h0M535.7 364.0h0M535.7 384.2h0M535.7 399.5h0M537.8 136.0h0M537.8 169.7h0M537.8 184.0h0M537.8 200.1h0M537.8 308.2h0M537.8 336.0h0M537.8 351.2h0M540.2 121.0h0M540.2 191.4h0M540.2 202.8h0M540.2 235.5h0M540.2 296.3h0M540.2 347.3h0M540.2 364.7h0M540.2 375.9h0M540.2 390.7h0M542.0 159.1h0M542.0 173.1h0M542.0 202.5h0M542.0 273.7h0M542.0 336.5h0M542.0 354.9h0M542.0 367.2h0M542.0 386.1h0M542.0 400.8h0M542.0 416.3h0M544.2 198.1h0M544.2 256.5h0M544.2 284.4h0M544.2 313.9h0M544.2 329.9h0M544.2 357.9h0M544.2 401.2h0M544.4 424.0h0M546.7 153.3h0M546.7 166.9h0M546.7 191.8h0M546.7 210.3h0M546.7 235.6h0M546.7 279.6h0M546.7 315.6h0M546.7 345.8h0M549.0 162.8h0M549.0 182.8h0M549.0 208.8h0M549.0 240.9h0M549.0 256.7h0M549.0 282.9h0M549.0 327.2h0M551.1 180.9h0M551.1 217.2h0M551.1 232.2h0M551.1 246.4h0M551.1 273.6h0M551.1 292.8h0M551.1 336.2h0M551.1 387.2h0M551.1 403.6h0M553.2 131.6h0M553.2 185.0h0M553.2 239.4h0M553.2 256.8h0M553.2 275.1h0M553.2 303.6h0M553.2 335.1h0M553.2 350.9h0M553.2 362.8h0M555.2 129.9h0M555.2 144.7h0M555.2 195.5h0M555.2 218.8h0M555.2 267.3h0M555.2 281.9h0M555.2 353.7h0M555.2 421.9h0M557.3 125.9h0M557.3 151.3h0M557.3 226.2h0M557.3 261.2h0M557.3 276.3h0M557.3 313.3h0M557.3 359.1h0M557.3 377.7h0M559.4 154.1h0M559.4 232.7h0M559.4 245.3h0M559.4 260.4h0M559.4 270.6h0M559.4 282.4h0M559.4 315.1h0M559.4 344.4h0M559.4 391.2h0M559.4 401.3h0M561.8 126.6h0M561.8 226.3h0M561.8 243.8h0M561.8 253.6h0M561.8 369.8h0M563.8 198.3h0M563.8 227.1h0M563.8 254.5h0M563.8 268.4h0M563.8 285.0h0M563.8 297.0h0M563.8 361.9h0M563.8 375.1h0M563.8 406.1h0M565.7 134.9h0M565.7 197.6h0M565.7 246.9h0M565.7 262.8h0M565.7 279.8h0M565.7 328.7h0M565.7 380.0h0M567.8 131.1h0M567.8 143.8h0M567.8 162.4h0M567.8 174.5h0M567.8 219.8h0M567.8 246.6h0M567.8 312.1h0M567.8 325.1h0M567.8 368.6h0M569.6 166.6h0M569.6 207.1h0M569.6 226.6h0M569.6 269.4h0M569.6 292.5h0M569.6 339.8h0M569.6 354.9h0M569.6 387.0h0M569.6 400.5h0M569.6 419.6h0M571.8 148.4h0M571.8 199.1h0M571.8 215.1h0M571.8 245.6h0M571.8 260.9h0M571.8 277.8h0M571.8 423.7h0M571.6 430.0h0M573.8 131.3h0M573.8 159.3h0M573.8 252.2h0M573.8 333.1h0M573.8 361.1h0M573.8 405.0h0M575.9 125.7h0M575.9 155.0h0M575.9 181.8h0M575.9 207.8h0M575.9 321.8h0M575.9 379.4h0M575.9 391.7h0M575.9 407.1h0M575.9 419.3h0M578.0 163.4h0M578.0 179.4h0M578.0 291.1h0M578.0 303.8h0M578.0 351.8h0M578.0 382.6h0M578.0 399.3h0M578.0 418.8h0M580.3 129.3h0M580.3 139.4h0M580.3 176.2h0M580.3 206.8h0M580.3 241.3h0M580.3 254.4h0M580.3 268.3h0M580.3 285.2h0M580.3 298.4h0M580.3 316.7h0M580.3 348.2h0M580.3 363.7h0M580.3 381.4h0M580.3 398.3h0M591.4 132.2h0M591.4 150.2h0M591.4 182.5h0M591.4 230.7h0M591.4 246.0h0M591.4 292.3h0M591.4 311.2h0M591.4 324.0h0M591.4 393.9h0M591.4 409.0h0M591.4 431.6h0M594.4 146.5h0M594.4 230.9h0M594.4 248.6h0M594.4 262.6h0M594.4 312.9h0M594.4 330.7h0M594.4 378.5h0M594.4 414.2h0M594.4 431.4h0M598.4 182.3h0M598.4 204.1h0M598.4 215.3h0M598.4 234.5h0M598.4 303.0h0M598.4 421.6h0M598.2 427.9h0M605.5 124.9h0M605.5 140.5h0M605.5 194.5h0M605.5 224.6h0M605.5 240.0h0M605.5 258.7h0M605.5 277.8h0M605.5 309.5h0M605.5 341.2h0M605.5 386.7h0M608.3 136.2h0M608.3 214.2h0M608.3 245.7h0M608.3 285.9h0M608.3 360.5h0M608.3 394.3h0M608.3 429.4h0M610.9 123.4h0M610.9 153.5h0M610.9 188.7h0M610.9 202.6h0M610.9 220.7h0M610.9 273.4h0M610.9 319.6h0M610.9 347.0h0M610.9 363.7h0M610.9 395.6h0M613.6 217.0h0M613.6 229.0h0M613.6 248.4h0M613.6 278.1h0M613.6 319.2h0M613.6 351.9h0M613.6 397.9h0M613.6 409.9h0M613.6 430.8h0M616.2 131.8h0M616.2 233.7h0M616.2 336.1h0M616.2 353.6h0M616.2 415.6h0M616.2 428.7h0M618.9 127.3h0M618.9 141.2h0M618.9 152.8h0M618.9 166.4h0M618.9 185.1h0M618.9 222.3h0M618.9 253.6h0M618.9 365.0h0M618.9 392.1h0M619.5 428.6h0M621.5 151.0h0M621.5 180.0h0M621.5 196.0h0M621.5 215.0h0M621.5 250.6h0M621.5 282.8h0M621.5 293.5h0M621.5 307.4h0M621.5 325.0h0M621.5 344.2h0M621.5 387.6h0M624.0 165.3h0M624.0 199.7h0M624.0 211.1h0M624.0 277.2h0M624.0 323.2h0M624.0 339.4h0M624.0 353.1h0M624.0 367.6h0M624.0 376.7h0M624.0 404.0h0M624.0 417.3h0M626.5 179.7h0M626.5 192.6h0M626.5 211.0h0M626.5 241.0h0M626.5 273.5h0M626.5 319.3h0M626.5 359.2h0M626.5 370.8h0M626.5 382.9h0M633.5 130.5h0M633.5 147.8h0M633.5 164.2h0M633.5 180.8h0M633.5 193.5h0M633.5 208.9h0M633.5 260.6h0M633.5 365.1h0M633.5 384.4h0M635.8 205.3h0M635.8 218.4h0M635.8 238.0h0M635.8 285.2h0M635.8 337.6h0M635.8 352.7h0M635.8 367.7h0M635.8 409.5h0M635.8 427.3h0M638.2 159.5h0M638.2 213.5h0M638.2 227.6h0M638.2 276.8h0M638.2 296.8h0M638.2 309.3h0M638.2 355.5h0M638.2 376.1h0M640.7 162.5h0M640.7 242.3h0M640.7 260.3h0M640.7 296.5h0M640.7 341.3h0M640.7 389.1h0M640.7 425.8h0M642.8 141.2h0M642.8 191.3h0M642.8 228.1h0M642.8 272.4h0M642.8 316.0h0M642.8 390.9h0M642.8 411.1h0M643.4 439.7h0M645.2 199.4h0M645.2 212.7h0M645.2 286.2h0M645.2 320.5h0M645.2 395.8h0M645.2 409.3h0M647.4 136.0h0M647.4 149.7h0M647.4 193.5h0M647.4 203.7h0M647.4 285.9h0M647.4 420.8h0M649.7 142.4h0M649.7 162.5h0M649.7 230.8h0M649.7 250.6h0M649.7 264.8h0M649.7 279.5h0M649.7 292.0h0M649.7 363.1h0M649.7 397.0h0M649.7 406.6h0M651.9 150.6h0M651.9 175.3h0M651.9 211.6h0M651.9 260.7h0M651.9 275.5h0M651.9 337.6h0M651.9 382.3h0M654.2 155.9h0M654.2 208.2h0M654.2 237.4h0M654.2 341.9h0M654.2 370.0h0M653.7 435.6h0M656.4 181.4h0M656.4 214.2h0M656.4 229.7h0M656.4 265.8h0M656.4 317.8h0M656.4 331.5h0M656.4 363.5h0M658.9 126.6h0M658.9 193.9h0M658.9 207.3h0M658.9 234.7h0M658.9 284.6h0M658.9 298.7h0M658.9 317.9h0M658.9 345.5h0M658.9 382.6h0M658.9 401.7h0M658.9 419.4h0M658.9 439.3h0M661.1 176.2h0M661.1 216.1h0M661.1 246.3h0M661.1 305.6h0M661.1 315.2h0M661.1 360.9h0M661.1 386.9h0M661.1 406.7h0M661.1 426.3h0M663.4 139.7h0M663.4 179.8h0M663.4 237.9h0M663.4 252.7h0M663.4 304.7h0M663.4 321.9h0M663.4 353.7h0M663.4 438.3h0M666.0 213.2h0M666.0 234.3h0M667.6 127.1h0M667.6 154.5h0M667.6 172.5h0M667.6 188.9h0M667.6 252.0h0M669.3 152.5h0M669.3 157.3h0M669.3 184.7h0M669.3 199.8h0M669.3 229.3h0M670.8 123.4h0M670.8 168.1h0M670.8 189.8h0M670.8 230.3h0M670.8 271.2h0M670.8 281.5h0M672.0 133.1h0M672.0 218.2h0M672.0 232.3h0M672.0 284.1h0M671.4 303.5h0M673.4 203.1h0M673.4 224.6h0M674.8 147.0h0M674.8 206.8h0M674.8 218.0h0M674.8 287.6h0M673.8 301.9h0M676.5 125.4h0M676.5 181.4h0M676.5 208.0h0M676.5 224.7h0M676.5 267.9h0M676.6 300.3h0M677.8 127.8h0M677.8 161.4h0M677.8 174.5h0M677.8 297.1h0M679.4 168.0h0M679.4 215.6h0M679.4 236.5h0M679.4 263.1h0M679.4 275.6h0M680.9 227.3h0M680.9 257.9h0M680.9 288.3h0M682.5 133.1h0M682.5 197.8h0M682.5 213.6h0M682.5 271.6h0M682.5 291.4h0M682.5 306.0h0M683.9 126.0h0M683.9 151.9h0M683.9 183.2h0M683.9 222.0h0M683.9 240.8h0M683.9 271.3h0M683.9 284.9h0M683.9 301.9h0M685.3 129.0h0M685.3 148.1h0M685.3 174.2h0M685.3 198.5h0M685.3 214.2h0M685.3 232.9h0M685.3 276.0h0M685.3 294.2h0M686.8 137.2h0M686.8 151.5h0M686.8 205.3h0M686.8 238.7h0M686.8 301.5h0M688.3 231.3h0M688.3 248.6h0M688.3 285.7h0M689.8 163.4h0M689.8 219.9h0M689.8 232.8h0M689.8 249.5h0M689.8 276.3h0M689.8 292.0h0M689.7 311.0h0M691.4 153.9h0M691.4 178.3h0M691.4 208.7h0M691.4 251.2h0M691.4 266.3h0M691.4 282.3h0M691.4 296.5h0M691.4 307.1h0M692.8 126.5h0M692.8 139.3h0M692.8 215.2h0M692.8 230.0h0M692.8 255.6h0M692.8 268.8h0M692.8 302.4h0M693.4 312.7h0M694.4 135.8h0M694.4 167.5h0M694.4 184.2h0M694.4 193.7h0M694.4 218.2h0M694.4 262.1h0M694.6 300.8h0M695.8 123.1h0M695.8 155.0h0M695.8 167.0h0M695.8 196.2h0M697.3 156.6h0M697.3 173.8h0M697.3 189.5h0M697.3 208.4h0M697.3 224.9h0M698.7 176.0h0M698.7 255.9h0M700.4 190.3h0M700.4 228.2h0M700.4 282.6h0M700.3 301.4h0M702.0 129.9h0M702.0 170.5h0M702.0 179.4h0M702.0 214.9h0M702.0 250.6h0M703.5 191.8h0M703.5 203.6h0M703.5 269.7h0M703.5 282.1h0M703.5 298.9h0M703.9 311.6h0M705.0 149.5h0M705.0 168.7h0M705.0 185.5h0M705.0 194.2h0M705.0 271.9h0M705.0 292.4h0M705.3 308.6h0M706.5 126.1h0M706.5 182.8h0M706.5 229.7h0M706.5 245.6h0M708.0 146.9h0M708.0 196.9h0M708.0 240.7h0M708.0 265.7h0M708.0 281.7h0M708.0 287.8h0M708.0 298.6h0M708.5 307.4h0M709.4 152.8h0M709.4 177.0h0M709.4 195.1h0M709.4 223.8h0M709.4 272.8h0M709.4 278.9h0M709.4 293.3h0M710.9 133.4h0M710.9 155.1h0M710.9 175.4h0M710.9 190.2h0M710.9 200.1h0M710.9 211.0h0M710.9 242.5h0M710.9 298.1h0M712.5 165.4h0M712.5 212.9h0M712.5 228.7h0M714.0 119.2h0M714.0 196.6h0M714.0 231.5h0M715.5 145.6h0M715.5 156.9h0M715.5 264.9h0M715.5 297.1h0M717.2 215.4h0M717.2 243.2h0M717.2 260.5h0M716.6 300.3h0M718.7 162.8h0M718.7 173.5h0M718.7 191.2h0M718.7 205.1h0M718.7 237.4h0M718.7 272.7h0M718.7 297.4h0M720.2 140.9h0M720.2 170.8h0M720.2 184.7h0M720.2 195.7h0M720.2 249.6h0M720.2 260.3h0M720.2 275.7h0M721.8 122.0h0M721.8 148.5h0M721.8 164.6h0M721.8 200.7h0M721.8 215.0h0M722.1 310.0h0M723.2 139.8h0M723.2 194.6h0M723.2 210.9h0M724.7 201.6h0M724.7 252.9h0M724.7 265.4h0M726.4 123.3h0M726.4 178.3h0M726.4 193.3h0M726.4 209.2h0M726.4 247.6h0M726.4 265.7h0M726.4 281.4h0M728.0 167.5h0M728.0 179.6h0M728.0 245.2h0M728.0 258.8h0M728.0 286.5h0M729.4 128.9h0M729.4 160.7h0M729.4 210.0h0M729.4 226.0h0M729.4 263.1h0M729.4 310.5h0M730.9 147.6h0M730.9 196.4h0M730.9 226.7h0M730.9 236.5h0M730.9 263.4h0M730.9 278.4h0M730.9 290.9h0M730.8 299.7h0M732.5 118.6h0M732.5 190.3h0M732.5 250.8h0M732.5 265.5h0M732.5 280.7h0M734.0 199.5h0M735.4 133.8h0M735.4 202.2h0M735.4 222.0h0M736.9 128.8h0M736.9 146.6h0M736.9 177.4h0M736.9 191.1h0M736.9 220.1h0M736.9 229.8h0M736.9 281.0h0M738.5 126.1h0M738.5 208.7h0M738.5 228.9h0M738.5 257.8h0M738.5 268.8h0M738.5 286.4h0M738.5 296.4h0M738.9 297.4h0M740.2 127.6h0M740.2 144.8h0M740.2 173.4h0M740.2 186.4h0M740.2 197.5h0M740.2 216.0h0M740.2 225.8h0M740.2 257.5h0M740.2 273.8h0M740.2 301.1h0M741.7 128.6h0M741.7 148.8h0M741.7 183.3h0M741.7 208.0h0M741.7 270.3h0M741.7 285.7h0M741.7 303.3h0M743.3 126.0h0M743.3 168.5h0M743.3 229.0h0M743.3 268.1h0M743.3 294.0h0M743.0 300.5h0M744.9 154.1h0M744.9 186.4h0M744.9 200.6h0M744.9 236.1h0M744.9 264.9h0M744.9 277.6h0M746.4 128.9h0M746.4 142.9h0M746.4 153.7h0M746.4 180.4h0M746.4 190.2h0M746.4 206.3h0M746.4 222.0h0M746.4 270.9h0M746.4 301.7h0M747.9 142.4h0M747.9 228.6h0M747.9 269.6h0M747.9 307.9h0M749.4 172.4h0M749.4 185.7h0M749.4 222.2h0M749.4 231.8h0M749.4 261.9h0M749.4 307.2h0M750.9 136.1h0M750.9 192.4h0M750.9 221.8h0M750.9 298.7h0M751.7 312.6h0M752.4 138.9h0M752.4 211.0h0M752.4 230.3h0M752.4 299.5h0M753.8 136.5h0M753.8 147.5h0M753.8 231.5h0M753.8 261.2h0M753.8 294.1h0M753.6 305.0h0M755.3 144.1h0M755.3 161.4h0M755.3 188.0h0M755.3 222.8h0M755.3 237.7h0M755.3 265.2h0M755.3 300.8h0M756.4 139.1h0M756.4 218.3h0M756.4 246.4h0M756.4 275.4h0M756.4 286.9h0M757.9 130.2h0M757.9 148.4h0M757.9 172.6h0M757.9 237.0h0M757.9 245.2h0M757.9 259.8h0M757.9 274.1h0M757.9 286.6h0M757.9 304.6h0M759.3 148.8h0M759.3 182.9h0M759.3 209.6h0M759.3 222.8h0M759.3 241.8h0M759.3 259.1h0M759.3 286.7h0M760.6 156.8h0M760.6 172.9h0M760.6 200.0h0M760.6 218.1h0M760.6 266.8h0M760.6 286.8h0M760.6 302.7h0M762.1 162.7h0M762.1 191.4h0M762.1 215.2h0M762.1 276.0h0M761.9 301.2h0M763.5 182.2h0M763.5 200.8h0M763.5 232.9h0M763.5 262.3h0M763.4 307.1h0M765.1 129.2h0M765.1 159.5h0M765.1 211.7h0M765.1 228.3h0M765.1 240.5h0M765.1 260.4h0M765.1 270.4h0M766.5 143.2h0M766.5 183.6h0M766.5 196.0h0M766.5 224.7h0M768.1 219.3h0M768.1 259.4h0M768.1 290.5h0M767.4 300.3h0M769.5 129.5h0M769.5 205.2h0M769.5 217.1h0M770.9 176.7h0M770.9 209.0h0M770.9 275.2h0M771.0 309.7h0M772.5 128.4h0M772.5 199.9h0M772.5 238.5h0M772.5 265.9h0M772.5 307.3h0M773.9 248.2h0M773.9 303.1h0M775.2 138.8h0M775.2 191.0h0M775.2 208.4h0M775.2 234.1h0M775.2 259.5h0M776.7 140.3h0M776.7 157.4h0M776.7 198.7h0M776.7 308.1h0M778.5 128.2h0M778.5 161.7h0M778.5 179.3h0M778.5 190.5h0M778.5 208.7h0M778.5 294.6h0M779.9 136.9h0M779.9 150.3h0M779.9 167.9h0M779.9 192.1h0M779.9 206.2h0M779.9 236.4h0M779.9 278.0h0M781.3 128.6h0M781.3 138.0h0M781.3 172.3h0M781.3 223.4h0M781.3 247.7h0M780.3 302.7h0M783.0 181.0h0M783.0 204.5h0M783.0 220.1h0M783.0 247.2h0M783.0 309.0h0M784.5 135.1h0M784.5 156.6h0M784.5 226.1h0M784.5 266.3h0M784.5 284.6h0M786.0 169.7h0M786.0 252.6h0M785.5 306.0h0M787.4 132.8h0M787.4 157.4h0M787.4 190.9h0M787.4 204.4h0M787.4 240.2h0M787.4 246.9h0M787.4 263.2h0M787.4 298.0h0M787.6 308.8h0M789.0 179.1h0M789.0 191.7h0M789.0 217.5h0M789.0 293.6h0M790.4 132.3h0M790.4 204.4h0M790.4 235.0h0M790.4 250.3h0M790.8 302.2h0M791.8 118.3h0M791.8 135.2h0M791.8 168.5h0M791.8 187.8h0M791.8 276.1h0M791.8 305.9h0M793.3 137.7h0M793.3 201.9h0M793.3 228.2h0M793.3 263.4h0M793.3 295.6h0M794.7 132.0h0M794.7 232.5h0M794.7 245.9h0M794.7 274.3h0M794.7 289.6h0M794.7 301.3h0M796.2 129.9h0M796.2 224.0h0M796.2 236.5h0M796.2 270.1h0M797.4 126.1h0M797.4 142.9h0M797.4 206.0h0M797.4 222.5h0M797.4 285.2h0M798.9 133.7h0M798.9 142.1h0M798.9 194.3h0M798.9 215.1h0M798.9 275.0h0M798.9 286.7h0M798.9 297.4h0M800.4 133.6h0M800.4 151.3h0M800.4 183.4h0M800.4 225.3h0M800.4 239.6h0M800.4 253.2h0M800.4 267.8h0M800.4 302.2h0M802.1 130.4h0M802.1 148.3h0M802.1 173.1h0M802.1 179.7h0M802.1 233.5h0M802.1 249.4h0M802.1 302.0h0M802.1 305.3h0M803.6 121.0h0M803.6 149.8h0M803.6 165.0h0M803.6 193.6h0M803.6 212.3h0M803.6 218.4h0M803.6 239.6h0M803.6 255.6h0M805.2 123.6h0M805.2 163.3h0M805.2 180.5h0M805.2 223.8h0M805.2 260.0h0M805.2 276.1h0M804.7 301.1h0M806.6 179.5h0M806.6 237.5h0M806.6 252.5h0M806.6 304.6h0M808.1 177.8h0M808.1 258.7h0M808.1 278.0h0M808.1 284.9h0M808.1 306.5h0M809.6 134.5h0M809.6 221.0h0M809.6 235.0h0M809.6 249.0h0M809.6 275.8h0M809.6 306.8h0M811.2 186.9h0M811.2 205.3h0M811.2 254.6h0M811.2 287.0h0M812.8 163.1h0M812.8 286.4h0M814.2 163.7h0M814.2 179.5h0M814.2 184.7h0M814.2 250.3h0M814.2 265.1h0M814.2 278.1h0M815.7 142.8h0M815.7 155.7h0M815.7 170.5h0M815.7 221.8h0M815.7 231.0h0M817.2 173.8h0M817.2 184.6h0M817.2 200.1h0M817.2 211.3h0M817.2 245.9h0M817.8 301.0h0M818.8 171.0h0M818.8 202.4h0M818.8 218.2h0M818.8 234.1h0M818.8 253.5h0M818.8 281.9h0M820.3 232.5h0M821.8 147.1h0M821.8 165.7h0M821.8 223.6h0M821.8 239.2h0M821.8 253.8h0M823.4 218.6h0M823.4 240.9h0M825.1 131.2h0M825.1 144.9h0M825.1 188.5h0M825.1 199.7h0M825.1 216.4h0M825.1 266.5h0M826.7 142.1h0M826.7 156.6h0M826.7 229.7h0M826.7 237.0h0M828.3 160.5h0M828.3 176.9h0M828.3 194.5h0M828.3 207.6h0M828.3 221.4h0M828.3 267.3h0M828.3 272.6h0M830.0 139.8h0M830.0 155.7h0M830.0 181.5h0M830.0 240.4h0M830.0 255.5h0M830.0 312.0h0M831.6 124.6h0M831.6 183.4h0M831.6 191.1h0M831.6 241.6h0M831.6 252.8h0M832.9 167.3h0M832.9 217.6h0M832.9 278.4h0M832.9 295.9h0M833.2 303.8h0M834.4 131.8h0M834.4 147.4h0M834.4 186.5h0M834.4 199.2h0M834.4 247.8h0M834.4 264.0h0M835.8 217.9h0M835.8 255.6h0M835.8 275.4h0M837.2 132.2h0M837.2 159.9h0M837.2 168.6h0M837.2 186.8h0M837.2 222.1h0M837.2 228.2h0M837.2 278.4h0M838.6 129.4h0M838.6 147.1h0M838.6 184.2h0M838.6 196.9h0M838.6 252.8h0M838.6 268.8h0M838.6 282.2h0M840.2 159.5h0M840.2 188.7h0M840.2 206.5h0M840.2 218.9h0M840.2 250.1h0M840.2 270.1h0M841.7 154.6h0M841.7 261.2h0M843.2 135.3h0M843.2 194.8h0M843.2 224.8h0M843.2 242.0h0M843.2 279.1h0M843.2 296.5h0M842.7 310.6h0M844.7 159.4h0M844.7 209.7h0M844.7 221.2h0M844.7 273.6h0M846.0 165.5h0M846.0 214.6h0M846.0 247.1h0M846.0 295.5h0M847.3 123.0h0M847.3 138.2h0M847.3 153.2h0M847.3 183.9h0M847.3 191.4h0M847.3 221.5h0M847.3 237.8h0M848.8 124.8h0M848.8 134.7h0M848.8 185.8h0M848.8 199.3h0M848.8 214.0h0M848.8 242.7h0M848.8 268.4h0M848.8 314.1h0M850.3 118.7h0M850.3 147.4h0M850.3 183.6h0M850.3 238.7h0M850.3 252.6h0M850.3 280.2h0M851.8 132.0h0M851.8 137.8h0M851.8 158.0h0M851.8 169.1h0M851.8 182.8h0M851.8 201.3h0M851.8 209.9h0M851.8 238.6h0M851.8 251.1h0M851.8 295.7h0M853.2 130.5h0M853.2 176.7h0M853.2 202.9h0M853.2 273.4h0M854.6 137.0h0M854.6 172.0h0M854.6 191.2h0M854.6 248.2h0M854.6 261.4h0M854.6 281.1h0M856.1 138.3h0M856.1 163.1h0M856.1 200.5h0M856.1 213.9h0M856.1 268.8h0M856.1 290.5h0M857.6 186.2h0M857.6 253.5h0M857.6 266.2h0M857.6 297.5h0M859.2 143.7h0M859.2 174.6h0M859.2 220.3h0M859.2 248.6h0M859.2 274.6h0M859.2 284.7h0M860.8 122.5h0M860.8 154.7h0M860.8 167.2h0M860.8 211.2h0M860.8 242.4h0M860.8 268.7h0M860.8 304.0h0M861.6 310.8h0M862.3 123.4h0M862.3 134.0h0M862.3 275.9h0M862.3 300.2h0M863.7 141.6h0M863.7 155.3h0M863.7 190.5h0M863.7 210.2h0M863.7 222.2h0M863.7 286.6h0M863.7 304.8h0M865.0 154.1h0M865.0 192.1h0M865.0 216.5h0M865.0 293.4h0M865.0 305.1h0M866.5 125.4h0M866.5 217.6h0M866.5 234.9h0M866.5 244.7h0M866.5 310.5h0M868.0 176.9h0M868.0 195.1h0M868.0 230.1h0M868.0 242.3h0M868.0 256.4h0M868.0 272.6h0M868.0 285.1h0M867.2 304.3h0M869.4 155.7h0M869.4 189.1h0M869.4 202.8h0M869.4 259.1h0M869.4 274.5h0M869.4 305.7h0M870.9 143.0h0M870.9 172.5h0M870.9 203.2h0M870.9 285.5h0M872.4 129.3h0M872.4 198.7h0M872.4 225.5h0M872.4 241.4h0M872.4 280.6h0M872.4 294.7h0M873.9 216.0h0M873.9 249.3h0M875.4 134.1h0M875.4 165.0h0M875.4 181.4h0M875.4 191.6h0M875.4 247.0h0M875.4 263.5h0M875.9 296.5h0M876.7 143.9h0M876.7 179.2h0M876.7 183.6h0M876.7 207.2h0M876.7 232.9h0M876.7 246.7h0M876.7 264.4h0M878.1 121.6h0M878.1 168.1h0M878.1 196.6h0M878.1 211.2h0M878.1 222.7h0M878.1 257.5h0M878.1 270.6h0M879.5 132.3h0M879.5 161.9h0M879.5 212.1h0M879.5 270.3h0M879.9 300.5h0M881.1 161.8h0M881.1 208.4h0M881.1 249.7h0M881.1 263.6h0M881.1 274.1h0M882.7 133.6h0M882.7 179.0h0M882.7 234.7h0M882.7 252.9h0M882.7 265.6h0M882.7 282.7h0M884.2 145.5h0M884.2 201.3h0M884.2 276.7h0M885.8 141.2h0M885.8 160.2h0M885.8 176.9h0M885.8 195.8h0M885.8 254.2h0M885.8 262.9h0M885.8 289.9h0M885.8 295.1h0M887.3 134.3h0M887.3 179.3h0M887.3 210.7h0M887.3 272.8h0M887.3 290.2h0M887.3 308.2h0M888.8 129.2h0M888.8 186.3h0M888.8 195.8h0M888.8 214.4h0M888.8 259.1h0M888.8 291.7h0M890.5 149.3h0M890.5 172.4h0M890.5 215.8h0M890.5 238.3h0M890.5 267.1h0M890.5 279.3h0M891.8 185.5h0M891.8 251.0h0M891.8 270.2h0M891.8 283.5h0M891.8 300.3h0M893.2 171.9h0M893.2 190.5h0M893.2 218.8h0M893.2 252.4h0M892.4 305.5h0M894.8 134.4h0M894.8 153.1h0M894.8 175.5h0M894.8 228.2h0M894.8 241.9h0M894.8 255.9h0M894.8 267.4h0M894.8 289.5h0M896.2 150.3h0M896.2 229.1h0M896.2 272.9h0M897.7 176.1h0M897.7 218.4h0M897.7 241.4h0M899.1 126.8h0M899.1 200.4h0M899.1 217.7h0M899.1 261.9h0M899.1 296.3h0M899.3 299.1h0M900.7 127.9h0M900.7 138.5h0M900.7 193.3h0M900.7 204.3h0M900.7 231.5h0M900.7 265.1h0M900.7 301.0h0M902.1 124.0h0M902.1 172.4h0M902.1 189.4h0M902.1 199.9h0M902.1 220.6h0M902.1 230.6h0M902.1 283.3h0M903.6 159.8h0M903.6 177.9h0M903.6 190.6h0M903.6 205.1h0M903.6 228.7h0M903.6 237.9h0M903.6 257.7h0M903.6 273.8h0M903.6 292.5h0M905.1 142.7h0M905.1 170.0h0M905.1 183.8h0M905.1 205.6h0M905.1 225.7h0M905.1 263.1h0M904.7 296.4h0M906.8 152.2h0M906.8 163.0h0M906.8 179.7h0M906.8 193.1h0M906.8 221.7h0M908.2 205.4h0M908.2 283.8h0M908.2 296.7h0M909.7 157.1h0M909.7 170.2h0M909.7 213.5h0M909.7 240.8h0M909.7 259.1h0M909.7 277.1h0M911.1 121.4h0M911.1 149.6h0M911.1 237.9h0M912.4 137.7h0M912.4 148.3h0M912.4 180.5h0M912.4 188.3h0M912.4 207.8h0M912.4 225.6h0M912.4 243.8h0M912.4 274.7h0M912.4 291.7h0M913.8 157.7h0M913.8 185.3h0M913.8 204.2h0M913.8 224.1h0M913.8 232.2h0M913.8 245.1h0M913.8 278.5h0M915.3 160.1h0M915.3 189.4h0M915.3 217.9h0M915.3 301.6h0M916.7 123.2h0M916.7 139.8h0M916.7 157.6h0M916.7 169.1h0M916.7 265.2h0M916.7 303.5h0M918.2 126.3h0M918.2 142.6h0M918.2 200.9h0M918.2 235.2h0M918.2 264.7h0M918.2 302.2h0M919.9 134.0h0M919.9 147.5h0M919.9 186.2h0M919.9 229.5h0M919.9 244.6h0M919.9 270.3h0M919.9 290.3h0M919.9 300.4h0M921.5 208.4h0M921.5 269.0h0M921.5 282.8h0M921.7 295.4h0M922.9 129.1h0M922.9 174.7h0M922.9 192.8h0M922.9 245.7h0M922.9 261.0h0M922.9 289.2h0M924.3 128.8h0M924.3 145.0h0M924.3 184.1h0M924.3 213.9h0M924.3 222.8h0M924.3 246.3h0M924.3 286.4h0M925.9 146.1h0M925.9 167.7h0M925.9 182.3h0M925.9 201.2h0M925.9 212.7h0M925.9 238.3h0M925.9 284.0h0M927.4 145.0h0M927.4 176.7h0M928.7 177.0h0M928.7 203.9h0M928.7 248.1h0M928.7 257.9h0M928.7 279.2h0M928.7 300.5h0M930.4 158.1h0M930.4 189.2h0M930.4 274.2h0M930.6 296.1h0M932.2 134.5h0M932.2 173.9h0M932.2 256.0h0M932.2 274.7h0M932.2 302.6h0M933.8 134.7h0M933.8 162.2h0M933.8 178.6h0M933.8 234.4h0M933.8 251.0h0M933.8 283.1h0M935.5 126.2h0M935.5 136.2h0M935.5 151.3h0M935.5 179.5h0M935.5 194.7h0M935.5 222.6h0M935.5 239.1h0M935.5 250.6h0M935.5 264.7h0M935.9 301.4h0M937.0 157.8h0M937.0 199.9h0M937.0 253.8h0M937.0 288.6h0M937.4 301.4h0M938.5 201.4h0M938.5 232.1h0M938.5 252.3h0M939.8 145.4h0M939.8 180.9h0M939.8 230.2h0M939.8 246.3h0M939.8 279.2h0M941.3 142.3h0M941.3 213.4h0M941.3 227.0h0M941.3 237.9h0M941.3 287.7h0M941.3 301.8h0M942.7 128.2h0M942.7 157.5h0M942.7 237.5h0M942.7 299.4h0M944.2 127.4h0M944.2 152.7h0M944.2 180.8h0M944.2 199.0h0M944.2 217.4h0M944.2 282.0h0M944.2 292.5h0M945.8 122.6h0M945.8 180.9h0M945.8 198.6h0M945.8 231.7h0M945.8 253.5h0M945.8 286.2h0M947.3 165.7h0M947.3 184.0h0M947.3 190.1h0M947.3 226.9h0M948.8 130.0h0M948.8 178.2h0M948.8 193.5h0M948.8 208.4h0M948.8 241.9h0M948.8 251.6h0M948.8 280.9h0M948.8 300.6h0M950.4 127.1h0M950.4 158.1h0M950.4 164.6h0M950.4 189.1h0M950.4 231.7h0M950.4 287.7h0M952.0 173.5h0M952.0 231.9h0M952.0 252.7h0M952.0 277.4h0M952.0 291.5h0M953.4 157.2h0M953.4 207.0h0M953.4 219.8h0M953.4 239.8h0M953.4 284.7h0M953.4 302.4h0M954.8 158.2h0M954.8 176.2h0M954.8 246.6h0M954.8 276.9h0M954.8 290.5h0M956.1 136.7h0M956.1 195.8h0M956.1 252.3h0M956.1 289.7h0M957.6 150.8h0M957.6 173.0h0M957.6 219.9h0M957.6 297.1h0M959.2 153.4h0M959.2 161.2h0M959.2 172.4h0M959.2 240.4h0M959.2 252.7h0M959.2 272.7h0M960.6 132.1h0M960.6 162.6h0M960.6 196.9h0M960.6 229.4h0M960.6 263.9h0M960.6 289.9h0M960.7 298.4h0M962.3 137.0h0M962.3 170.9h0M962.3 185.8h0M962.3 215.0h0M962.3 241.7h0M962.3 253.3h0M962.3 281.9h0M962.3 296.9h0M962.5 300.2h0M963.7 136.5h0M963.7 182.8h0M963.7 210.6h0M963.7 226.1h0M963.1 296.7h0M965.2 123.2h0M965.2 200.5h0M965.2 253.0h0M966.7 140.3h0M966.7 157.8h0M966.7 168.9h0M966.7 186.8h0M966.7 273.4h0M968.3 181.0h0M968.3 197.9h0M968.3 232.7h0M968.3 268.1h0M968.3 281.6h0M969.9 131.5h0M969.9 158.5h0M969.9 175.6h0M969.9 231.8h0M969.9 253.7h0M969.9 278.2h0M971.4 198.2h0M971.4 226.5h0M971.4 258.6h0M972.8 140.6h0M972.8 153.1h0M972.8 197.1h0M972.8 214.8h0M972.8 227.1h0M972.8 244.2h0M972.8 261.7h0M974.3 128.6h0M974.3 184.8h0M974.3 214.9h0M974.3 244.3h0M974.3 293.2h0M976.0 130.4h0M976.0 157.1h0M976.0 226.6h0M976.0 248.9h0M976.0 265.4h0M976.0 279.2h0M976.9 290.2h0M977.5 146.3h0M977.5 230.1h0M977.5 266.5h0M977.5 275.0h0M977.5 289.0h0M979.0 129.0h0M979.0 146.9h0M979.0 198.3h0M979.0 213.0h0M979.0 230.3h0M979.0 243.6h0M979.0 279.7h0M980.6 190.3h0M980.6 222.9h0M980.6 252.0h0M980.6 265.4h0M981.9 143.0h0M981.9 170.7h0M981.9 191.1h0M981.9 210.4h0M981.9 256.9h0M981.9 289.9h0M983.4 141.8h0M983.4 162.9h0M983.4 190.2h0M983.4 201.2h0M983.4 245.6h0M983.4 255.5h0M983.4 290.9h0M983.1 295.0h0M984.9 167.9h0M984.9 260.3h0M986.4 155.5h0M986.4 165.9h0M986.4 173.8h0M986.4 208.9h0M986.4 216.5h0M986.4 231.6h0M987.8 145.0h0M987.8 190.8h0M987.8 241.3h0M987.8 283.7h0M989.2 160.1h0M989.2 248.0h0M989.2 261.6h0M989.2 282.3h0M990.7 120.1h0M990.7 128.2h0M990.7 160.0h0M990.7 179.2h0M990.7 209.6h0M990.7 222.7h0M990.7 247.8h0M990.7 259.6h0M992.1 138.2h0M992.1 150.1h0M992.1 161.7h0M992.1 182.1h0M992.1 196.3h0M992.1 250.3h0M992.1 266.5h0M993.6 138.2h0M993.6 184.8h0M993.6 216.9h0M993.6 231.2h0M993.6 244.6h0M993.6 261.2h0M993.6 268.3h0M995.1 163.1h0M995.1 172.5h0M995.1 192.5h0M995.1 213.1h0M995.1 244.1h0M996.5 135.5h0M996.5 258.4h0M998.1 131.3h0M998.1 167.4h0M998.1 174.8h0M998.1 185.8h0M998.1 210.5h0M998.1 274.4h0M999.6 123.7h0M999.6 149.3h0M999.6 170.2h0M999.6 202.7h0M999.6 237.9h0M999.6 248.4h0M999.6 266.9h0M1000.0 284.7h0M1001.3 166.7h0M1001.3 175.2h0M1001.3 281.4h0M1001.5 290.3h0M1002.8 184.8h0M1002.8 192.2h0M1002.8 212.3h0M1002.8 280.6h0M1002.5 285.5h0M1004.0 133.0h0M1004.0 170.8h0M1004.0 198.9h0M1004.0 255.2h0M1004.0 269.2h0M862.7 313.9h0M862.7 319.5h0"/>
<path stroke="rgb(199,238,189)" d="M294.0 130.8h0M294.0 146.2h0M306.8 126.0h0M363.0 133.5h0M363.0 179.6h0M373.2 124.2h0M378.2 125.6h0M383.2 129.4h0M383.2 193.1h0M383.2 277.7h0M383.3 331.8h0M388.8 120.7h0M388.8 198.1h0M388.8 214.8h0M389.0 326.9h0M396.8 131.1h0M396.8 166.0h0M396.8 204.0h0M396.8 219.7h0M396.8 256.9h0M396.8 270.9h0M396.8 286.9h0M396.3 321.6h0M402.0 149.7h0M402.0 175.9h0M402.0 208.4h0M402.0 245.4h0M402.0 309.4h0M401.7 327.0h0M407.0 124.3h0M407.0 168.4h0M407.0 186.2h0M407.0 196.0h0M407.0 215.2h0M407.0 230.2h0M407.0 250.4h0M407.0 281.4h0M407.0 294.7h0M407.0 311.4h0M407.0 333.8h0M412.0 151.2h0M412.0 183.5h0M412.0 246.7h0M412.0 280.5h0M412.0 314.5h0M412.0 333.8h0M417.5 132.0h0M417.5 254.5h0M417.5 284.7h0M417.5 303.7h0M417.7 348.7h0M423.0 181.1h0M423.0 192.1h0M423.0 225.6h0M423.0 289.3h0M423.0 315.7h0M431.5 146.8h0M431.5 193.3h0M431.5 212.9h0M431.5 228.5h0M431.5 275.7h0M431.5 311.9h0M431.5 352.8h0M432.6 359.9h0M437.0 126.2h0M437.0 144.3h0M437.0 171.4h0M437.0 233.7h0M437.0 271.1h0M437.0 287.1h0M436.5 358.7h0M442.5 151.7h0M442.5 187.2h0M442.5 223.3h0M442.5 304.3h0M442.5 325.6h0M442.5 341.5h0M442.5 362.4h0M448.2 194.6h0M448.2 277.4h0M448.2 318.0h0M448.2 363.2h0M446.8 375.1h0M453.8 122.8h0M453.8 166.6h0M453.8 246.3h0M453.8 282.8h0M453.8 299.4h0M453.8 316.4h0M453.8 348.5h0M453.8 368.8h0M462.5 143.1h0M462.5 156.7h0M462.5 179.4h0M462.5 198.3h0M462.5 226.5h0M462.5 248.6h0M462.5 259.9h0M462.5 275.7h0M462.5 321.7h0M462.5 337.2h0M462.5 354.2h0M464.9 187.1h0M464.9 256.0h0M464.9 275.6h0M464.9 288.6h0M464.9 306.7h0M464.9 321.3h0M464.9 382.9h0M467.0 171.5h0M467.0 198.8h0M467.0 212.5h0M467.0 247.8h0M467.0 264.5h0M467.0 294.4h0M467.0 317.1h0M467.0 349.1h0M467.0 363.9h0M467.0 375.3h0M466.5 389.7h0M469.1 143.1h0M469.1 160.8h0M469.1 213.3h0M469.1 233.8h0M469.1 242.7h0M469.1 254.9h0M469.1 360.2h0M469.1 373.4h0M471.4 131.1h0M471.4 159.5h0M471.4 190.6h0M471.4 224.8h0M471.4 239.3h0M471.4 252.2h0M471.4 294.7h0M471.4 323.7h0M471.4 341.2h0M471.1 393.4h0M473.5 130.8h0M473.5 174.8h0M473.5 189.4h0M473.5 207.0h0M473.5 266.4h0M473.5 278.7h0M473.5 307.6h0M473.5 324.8h0M475.7 146.0h0M475.7 160.9h0M475.7 171.7h0M475.7 186.9h0M475.7 233.5h0M475.7 303.9h0M475.7 324.7h0M475.7 348.9h0M475.7 362.7h0M477.7 236.5h0M477.7 251.7h0M477.7 262.5h0M477.7 342.2h0M477.7 356.9h0M477.7 374.3h0M476.5 403.3h0M479.8 125.8h0M479.8 192.6h0M479.8 272.7h0M479.8 317.4h0M479.8 329.6h0M479.8 372.1h0M479.7 398.9h0M481.8 133.6h0M481.8 160.3h0M481.8 175.2h0M481.8 215.7h0M481.8 308.7h0M481.8 337.9h0M481.8 399.2h0M483.9 158.1h0M483.9 204.1h0M483.9 218.6h0M483.9 233.3h0M483.9 246.5h0M483.9 276.0h0M483.9 286.6h0M483.9 302.1h0M483.9 317.1h0M483.9 334.0h0M485.9 137.9h0M485.9 183.5h0M485.9 231.1h0M485.9 249.6h0M485.9 312.1h0M485.9 369.5h0M488.0 170.4h0M488.0 219.0h0M488.0 287.8h0M488.0 303.5h0M488.0 346.9h0M488.0 356.9h0M488.0 367.4h0M488.0 385.9h0M490.0 147.8h0M490.0 159.4h0M490.0 174.8h0M490.0 221.1h0M490.0 268.8h0M490.0 314.8h0M489.7 405.3h0M491.8 146.9h0M491.8 164.4h0M491.8 191.2h0M491.8 208.4h0M491.8 218.9h0M491.8 235.1h0M491.8 266.0h0M491.8 295.4h0M491.8 314.3h0M491.8 332.5h0M491.8 371.4h0M491.8 388.3h0M491.8 400.1h0M493.6 122.0h0M493.6 139.8h0M493.6 219.0h0M493.6 290.0h0M493.6 305.5h0M493.6 337.0h0M493.6 384.5h0M495.5 134.2h0M495.5 192.6h0M495.5 205.6h0M495.5 257.5h0M495.5 304.2h0M495.5 317.4h0M495.5 333.4h0M495.5 349.8h0M495.5 367.4h0M495.5 385.4h0M497.6 130.7h0M497.6 226.5h0M497.6 256.4h0M497.6 283.0h0M497.6 341.2h0M497.6 374.0h0M497.9 398.1h0M500.0 210.3h0M500.0 226.3h0M500.0 246.6h0M500.0 257.7h0M500.0 277.8h0M500.0 358.1h0M500.0 370.8h0M502.1 176.3h0M502.1 219.3h0M502.1 232.2h0M502.1 247.3h0M502.1 291.9h0M502.1 337.3h0M504.1 173.2h0M504.1 185.4h0M504.1 209.4h0M504.1 304.9h0M504.1 324.6h0M504.1 338.9h0M506.2 159.2h0M506.2 204.6h0M506.2 224.4h0M506.2 259.2h0M506.2 284.0h0M506.2 317.6h0M506.2 336.5h0M506.2 365.4h0M506.2 384.1h0M506.2 397.4h0M508.1 157.6h0M508.1 167.6h0M508.1 257.7h0M508.1 291.1h0M508.1 306.2h0M508.1 338.6h0M508.1 397.0h0M509.9 124.8h0M509.9 140.4h0M509.9 153.4h0M509.9 181.3h0M509.9 210.7h0M509.9 257.6h0M509.9 312.8h0M509.9 348.7h0M511.8 165.5h0M511.8 181.2h0M511.8 212.8h0M511.8 230.1h0M511.8 248.1h0M511.8 280.8h0M511.8 306.4h0M511.8 329.8h0M513.9 176.6h0M513.9 193.0h0M513.9 208.8h0M513.9 221.3h0M513.9 248.8h0M513.9 269.8h0M513.9 282.2h0M513.9 338.6h0M513.9 367.2h0M515.9 159.5h0M515.9 188.9h0M515.9 203.7h0M515.9 215.6h0M515.9 253.1h0M515.9 261.9h0M515.9 275.2h0M515.9 318.4h0M515.9 372.0h0M518.3 149.0h0M518.3 176.6h0M518.3 300.7h0M518.3 334.0h0M518.3 375.6h0M518.3 403.0h0M520.8 131.4h0M520.8 145.2h0M520.8 193.5h0M520.8 222.0h0M520.8 275.3h0M520.8 286.9h0M520.8 304.3h0M520.8 318.9h0M523.0 152.9h0M523.0 171.1h0M523.0 184.5h0M523.0 200.9h0M523.0 218.6h0M523.0 266.0h0M523.0 313.3h0M523.0 326.2h0M523.0 390.2h0M525.2 131.8h0M525.2 145.2h0M525.2 154.8h0M525.2 176.4h0M525.2 220.2h0M525.2 260.2h0M525.2 275.8h0M525.2 303.2h0M525.2 318.0h0M525.2 377.4h0M527.1 126.8h0M527.1 139.0h0M527.1 150.9h0M527.1 162.3h0M527.1 209.5h0M527.1 226.3h0M527.1 244.0h0M527.1 258.9h0M527.1 272.4h0M527.1 285.4h0M527.1 303.0h0M527.1 332.1h0M527.1 358.8h0M527.1 374.1h0M527.1 406.8h0M529.1 170.9h0M529.1 187.4h0M529.1 206.4h0M529.1 280.1h0M529.1 291.6h0M529.1 334.8h0M529.1 366.1h0M529.1 399.4h0M531.2 147.7h0M531.2 162.2h0M531.2 200.0h0M531.2 249.8h0M531.2 275.0h0M531.2 289.9h0M531.2 335.0h0M531.2 376.9h0M533.5 152.2h0M533.5 323.7h0M533.5 335.5h0M533.5 375.0h0M533.5 394.4h0M533.5 421.5h0M535.7 136.9h0M535.7 153.8h0M535.7 167.1h0M535.7 182.4h0M535.7 204.9h0M535.7 237.5h0M535.7 299.4h0M535.7 350.6h0M535.7 417.8h0M534.9 423.6h0M537.8 209.1h0M537.8 244.7h0M537.8 260.6h0M537.8 277.5h0M537.8 326.3h0M537.8 371.7h0M537.8 389.2h0M537.8 414.9h0M540.2 137.1h0M540.2 157.3h0M540.2 219.4h0M540.2 247.4h0M540.2 279.5h0M540.2 314.9h0M540.2 331.4h0M540.8 417.7h0M542.0 149.1h0M542.0 215.8h0M542.0 229.9h0M542.0 244.7h0M542.0 255.6h0M542.0 286.5h0M542.0 301.5h0M542.0 317.5h0M544.2 148.9h0M544.2 178.8h0M544.2 225.7h0M544.2 240.0h0M544.2 297.0h0M544.2 387.4h0M544.2 417.0h0M546.7 180.8h0M546.7 256.6h0M546.7 266.8h0M546.7 329.3h0M546.7 376.5h0M546.7 394.5h0M546.7 408.7h0M546.3 417.7h0M549.0 127.7h0M549.0 198.4h0M549.0 227.7h0M549.0 291.4h0M549.0 341.9h0M549.0 357.2h0M549.0 393.2h0M549.0 411.0h0M551.1 140.1h0M551.1 155.2h0M551.1 170.8h0M551.1 261.8h0M551.1 305.8h0M551.1 316.2h0M551.1 353.0h0M551.1 370.0h0M551.1 419.5h0M553.2 145.9h0M553.2 155.8h0M553.2 215.2h0M553.2 227.8h0M553.2 285.2h0M553.2 321.4h0M553.2 374.5h0M553.2 394.7h0M553.2 423.2h0M555.2 167.6h0M555.2 209.8h0M555.2 249.6h0M555.2 296.5h0M555.2 311.9h0M555.2 366.4h0M555.2 383.8h0M555.2 404.7h0M557.3 167.0h0M557.3 191.6h0M557.3 210.4h0M557.3 245.3h0M557.3 327.2h0M557.3 339.7h0M557.3 392.2h0M557.1 416.7h0M559.4 143.6h0M559.4 171.9h0M559.4 186.5h0M559.4 215.9h0M559.4 330.3h0M559.4 374.6h0M559.2 412.8h0M561.8 142.4h0M561.8 195.1h0M561.8 207.9h0M561.8 272.6h0M561.8 294.1h0M561.8 343.1h0M561.8 355.5h0M563.8 128.8h0M563.8 145.6h0M563.8 211.4h0M563.8 311.9h0M563.8 328.5h0M563.8 392.7h0M563.8 419.9h0M565.7 150.8h0M565.7 166.8h0M565.7 230.7h0M565.7 298.6h0M565.7 313.8h0M565.7 343.4h0M565.7 409.7h0M566.0 414.1h0M567.8 206.7h0M567.8 258.1h0M567.8 271.1h0M567.8 343.5h0M567.8 405.0h0M567.8 416.8h0M569.6 136.4h0M569.6 154.1h0M569.6 182.3h0M569.6 193.7h0M569.6 306.8h0M569.6 372.6h0M571.8 228.0h0M571.8 291.6h0M571.8 320.4h0M571.8 334.4h0M571.8 347.9h0M571.8 366.6h0M571.8 390.7h0M571.8 408.6h0M573.8 142.5h0M573.8 171.7h0M573.8 204.8h0M573.8 224.4h0M573.8 236.4h0M573.8 267.4h0M573.8 285.9h0M573.8 299.3h0M573.8 318.4h0M573.8 346.8h0M573.8 377.9h0M573.8 390.4h0M573.8 420.8h0M574.1 427.9h0M575.9 143.8h0M575.9 166.4h0M575.9 217.9h0M575.9 233.9h0M575.9 265.3h0M575.9 276.4h0M575.9 296.3h0M575.9 310.5h0M575.9 338.3h0M575.9 353.5h0M575.9 363.3h0M578.0 133.7h0M578.0 150.9h0M578.0 196.2h0M578.0 222.8h0M578.0 249.3h0M578.0 279.1h0M578.0 318.1h0M578.0 337.0h0M578.0 431.7h0M580.3 161.5h0M580.3 194.9h0M580.3 335.6h0M580.3 413.3h0M580.3 427.2h0M591.4 163.1h0M591.4 198.0h0M591.4 215.7h0M591.4 349.2h0M591.4 364.8h0M591.4 379.3h0M591.4 421.1h0M594.4 130.4h0M594.4 161.8h0M594.4 177.4h0M594.4 191.4h0M594.4 209.2h0M594.4 279.3h0M594.4 344.8h0M594.4 359.1h0M594.4 400.8h0M598.4 145.7h0M598.4 164.7h0M598.4 247.4h0M598.4 286.1h0M598.4 319.6h0M598.4 340.8h0M598.4 357.1h0M598.4 368.8h0M605.5 156.1h0M605.5 167.0h0M605.5 181.4h0M605.5 209.2h0M605.5 288.4h0M605.5 323.6h0M605.5 349.6h0M605.5 361.8h0M605.5 374.0h0M605.5 405.1h0M608.3 152.6h0M608.3 169.7h0M608.3 182.3h0M608.3 202.4h0M608.3 234.5h0M608.3 271.9h0M608.3 301.7h0M608.3 319.4h0M608.3 334.3h0M608.3 351.3h0M608.3 376.6h0M610.9 170.1h0M610.9 290.6h0M610.9 308.1h0M610.9 336.2h0M610.9 379.8h0M610.9 415.0h0M610.9 427.3h0M613.6 133.6h0M613.6 153.8h0M613.6 182.3h0M613.6 201.6h0M613.6 264.0h0M613.6 291.5h0M613.6 305.0h0M613.6 366.5h0M613.6 381.4h0M616.2 150.7h0M616.2 170.2h0M616.2 189.4h0M616.2 198.2h0M616.2 218.7h0M616.2 243.1h0M616.2 300.9h0M616.2 321.6h0M616.2 370.5h0M616.2 386.2h0M616.2 400.6h0M618.9 203.0h0M618.9 236.6h0M618.9 266.5h0M618.9 287.9h0M618.9 322.9h0M618.9 332.7h0M618.9 343.9h0M618.9 376.5h0M621.5 128.6h0M621.5 167.3h0M621.5 232.6h0M621.5 262.4h0M621.5 377.9h0M621.5 403.4h0M621.5 421.2h0M621.2 426.8h0M624.0 130.4h0M624.0 181.1h0M624.0 226.3h0M624.0 243.5h0M624.0 264.0h0M623.7 426.8h0M626.5 126.8h0M626.5 258.9h0M626.5 292.6h0M626.5 307.2h0M626.5 397.7h0M627.1 429.1h0M633.5 250.1h0M633.5 288.7h0M633.5 307.0h0M633.5 339.1h0M633.5 350.8h0M635.8 126.9h0M635.8 161.7h0M635.8 174.5h0M635.8 185.3h0M635.8 252.5h0M635.8 270.4h0M635.8 319.2h0M635.8 423.2h0M638.2 129.3h0M638.2 148.1h0M638.2 176.8h0M638.2 196.4h0M638.2 247.4h0M638.2 256.3h0M638.2 337.6h0M638.2 367.2h0M638.2 389.9h0M638.2 420.2h0M638.2 434.6h0M640.7 135.4h0M640.7 211.4h0M640.7 225.9h0M640.7 280.3h0M640.7 313.1h0M640.7 325.4h0M640.7 402.1h0M640.7 412.4h0M642.8 128.8h0M642.8 154.5h0M642.8 173.5h0M642.8 210.5h0M642.8 247.8h0M642.8 302.3h0M642.8 330.2h0M642.8 362.1h0M642.8 379.0h0M645.2 125.0h0M645.2 146.8h0M645.2 156.7h0M645.2 186.9h0M645.2 228.5h0M645.2 246.4h0M645.2 305.5h0M645.2 379.8h0M645.2 427.3h0M647.4 166.1h0M647.4 178.8h0M647.4 223.3h0M647.4 239.0h0M647.4 270.1h0M647.4 295.2h0M647.4 312.5h0M647.4 332.7h0M647.4 349.9h0M647.4 391.9h0M647.4 402.6h0M647.4 441.9h0M649.7 125.9h0M649.7 177.7h0M649.7 191.0h0M649.7 309.0h0M649.7 380.6h0M649.7 420.9h0M651.9 324.7h0M651.9 410.1h0M654.2 280.1h0M654.2 412.1h0M656.4 378.7h0M656.4 424.3h0M656.4 440.0h0M658.9 330.7h0M663.4 167.4h0M663.4 271.9h0M663.4 371.8h0M666.0 282.8h0M667.6 231.5h0M669.3 121.3h0M669.3 136.8h0M669.3 291.3h0M668.7 300.8h0M673.4 178.4h0M673.4 215.7h0M674.8 275.2h0M682.5 255.7h0M683.9 195.6h0M686.8 168.3h0M686.8 226.3h0M689.8 182.5h0M689.8 191.6h0M689.8 264.6h0M689.8 307.5h0M691.4 140.8h0M692.8 200.1h0M694.4 237.6h0M694.4 284.8h0M694.4 295.2h0M695.8 211.8h0M698.7 244.9h0M698.7 300.8h0M700.4 147.8h0M705.0 217.6h0M706.5 281.5h0M708.0 167.1h0M709.4 159.5h0M712.5 181.7h0M712.5 238.5h0M712.5 254.8h0M714.0 137.4h0M714.0 166.8h0M715.5 310.1h0M717.2 165.7h0M717.2 184.5h0M718.7 243.6h0M720.2 231.5h0M720.2 294.4h0M721.8 133.3h0M721.8 228.9h0M721.8 248.0h0M723.2 126.6h0M724.7 180.0h0M732.5 176.3h0M734.0 217.6h0M735.4 303.8h0M736.9 288.7h0M738.5 235.8h0M743.3 154.2h0M744.9 293.7h0M747.9 204.8h0M752.4 123.9h0M752.4 197.8h0M752.4 245.0h0M753.8 166.1h0M753.8 180.0h0M753.8 196.7h0M753.8 242.8h0M756.4 130.4h0M756.4 154.6h0M756.4 301.0h0M757.9 158.6h0M759.3 166.0h0M760.6 277.1h0M762.1 123.2h0M762.1 147.0h0M762.1 292.6h0M763.5 157.3h0M765.1 147.8h0M768.1 133.2h0M768.1 201.1h0M770.9 246.0h0M781.3 211.2h0M781.3 239.3h0M781.3 261.1h0M783.0 144.6h0M783.0 169.3h0M784.5 181.5h0M784.5 301.6h0M784.3 304.9h0M786.0 135.9h0M786.0 196.0h0M786.0 216.8h0M793.3 156.5h0M793.3 186.1h0M794.7 171.9h0M794.6 308.6h0M796.2 253.8h0M796.2 286.7h0M795.8 306.4h0M798.9 156.6h0M802.1 158.4h0M802.1 265.2h0M803.6 132.9h0M803.6 290.1h0M805.2 137.8h0M806.6 125.8h0M806.6 167.3h0M806.6 289.2h0M808.1 131.3h0M809.6 150.2h0M813.5 312.2h0M814.2 136.4h0M814.2 203.3h0M815.7 213.6h0M815.7 266.1h0M817.2 150.4h0M818.8 142.1h0M820.3 271.9h0M820.3 294.5h0M823.4 142.0h0M825.1 155.8h0M825.1 171.5h0M825.1 230.0h0M830.0 271.0h0M830.0 298.7h0M831.6 279.1h0M834.4 274.5h0M834.4 292.1h0M835.8 282.4h0M837.2 296.0h0M841.7 298.8h0M843.2 263.1h0M844.7 128.9h0M844.7 258.8h0M846.0 183.0h0M846.0 197.5h0M846.2 301.5h0M847.3 283.1h0M853.2 255.5h0M853.2 308.5h0M854.6 150.6h0M856.1 245.0h0M860.8 256.5h0M860.8 289.0h0M862.3 159.4h0M862.3 175.8h0M862.3 191.2h0M863.7 178.5h0M866.5 157.9h0M866.5 260.1h0M866.5 276.6h0M869.4 233.3h0M872.4 252.5h0M873.9 129.3h0M873.9 186.5h0M875.4 224.3h0M876.7 283.2h0M882.7 297.4h0M884.2 220.2h0M884.2 245.4h0M884.2 292.3h0M885.8 222.2h0M887.3 223.6h0M887.3 252.6h0M888.8 175.2h0M888.8 227.8h0M890.5 296.3h0M889.6 304.9h0M891.8 172.6h0M897.7 142.6h0M897.7 186.5h0M897.7 225.1h0M900.7 245.9h0M902.1 268.3h0M909.7 145.7h0M911.1 284.8h0M912.4 124.9h0M912.4 259.9h0M916.7 233.3h0M916.7 290.9h0M919.9 225.8h0M921.5 240.0h0M921.5 261.3h0M925.9 133.5h0M925.9 157.1h0M927.4 240.2h0M927.4 255.6h0M928.7 288.2h0M930.4 175.9h0M930.4 248.6h0M933.8 121.7h0M935.5 206.3h0M938.5 264.0h0M939.8 196.5h0M939.4 303.6h0M941.3 186.0h0M941.3 255.9h0M941.3 273.7h0M942.7 197.8h0M947.3 123.7h0M948.8 144.8h0M950.4 247.6h0M950.4 303.7h0M952.0 117.5h0M952.0 135.0h0M952.0 187.6h0M953.4 127.6h0M953.4 260.6h0M954.8 211.8h0M959.2 211.2h0M962.3 273.3h0M963.7 277.2h0M965.2 185.0h0M965.2 216.5h0M965.8 299.9h0M966.7 282.3h0M968.3 135.7h0M968.3 218.5h0M968.3 295.5h0M969.9 207.7h0M969.9 242.0h0M969.9 268.2h0M971.4 151.9h0M972.8 126.8h0M972.8 271.2h0M974.3 157.9h0M976.0 147.1h0M976.0 206.7h0M976.8 296.9h0M979.0 263.9h0M981.9 224.1h0M983.4 123.5h0M983.4 230.1h0M984.9 137.7h0M986.4 241.6h0M987.8 131.2h0M987.8 170.6h0M987.8 210.1h0M987.8 257.5h0M989.2 116.8h0M989.2 136.5h0M989.2 205.0h0M990.7 139.4h0M992.1 287.5h0M995.1 132.5h0M995.1 149.2h0M996.5 195.9h0M998.1 253.0h0M998.1 262.5h0M1001.3 191.6h0M1001.3 249.0h0M1002.8 125.3h0M1002.8 156.3h0M1004.0 208.1h0M514.7 418.0h0M581.0 451.5h0M584.0 451.3h0M587.0 451.4h0M600.0 445.0h0M603.0 447.0h0M626.7 453.0h0M628.0 456.5h0M215.0 71.6h0"/>
<path stroke="rgb(196,236,186)" d="M231.5 123.3h0M235.8 123.6h0M239.2 135.0h0M242.5 127.0h0M246.8 131.9h0M250.0 131.8h0M254.5 127.9h0M283.5 130.1h0M287.5 122.2h0M298.2 128.0h0M298.2 141.2h0M302.5 136.6h0M306.8 139.9h0M315.2 133.5h0M315.2 144.5h0M320.0 125.5h0M320.0 139.9h0M320.0 155.3h0M328.0 134.2h0M328.0 190.7h0M333.0 122.8h0M333.0 147.7h0M333.0 161.2h0M337.5 122.0h0M337.5 141.0h0M337.5 157.9h0M342.5 131.1h0M342.5 144.3h0M342.5 176.8h0M347.5 159.9h0M347.5 222.3h0M352.5 150.2h0M352.5 168.7h0M352.5 181.2h0M352.5 190.0h0M363.0 154.9h0M368.0 202.2h0M368.0 295.7h0M373.2 136.8h0M373.2 170.7h0M373.2 269.4h0M378.2 161.3h0M378.2 176.8h0M378.2 210.2h0M378.2 271.6h0M378.2 284.6h0M383.2 145.9h0M383.2 157.6h0M383.2 208.3h0M383.2 241.9h0M383.2 303.7h0M388.8 151.4h0M388.8 171.8h0M388.8 232.2h0M388.8 252.4h0M388.8 264.3h0M388.8 280.7h0M388.8 298.4h0M396.8 190.1h0M396.8 243.4h0M396.8 299.6h0M396.8 316.8h0M402.0 133.8h0M402.0 162.1h0M402.0 194.6h0M402.0 323.5h0M401.3 332.6h0M407.0 138.7h0M407.0 150.7h0M407.0 328.0h0M412.0 120.6h0M412.0 137.2h0M412.0 299.5h0M417.5 190.4h0M423.0 152.6h0M423.0 241.4h0M423.0 303.7h0M421.1 344.3h0M423.9 336.7h0M424.8 343.8h0M431.5 248.9h0M431.5 327.2h0M432.4 356.8h0M432.5 355.2h0M437.0 254.6h0M442.5 239.4h0M440.9 359.6h0M455.5 379.8h0M462.5 288.8h0M467.0 148.0h0M467.0 161.5h0M469.1 195.7h0M469.1 270.0h0M471.4 214.3h0M471.4 372.9h0M473.5 214.8h0M473.5 230.1h0M474.1 391.2h0M475.7 247.6h0M475.7 291.4h0M477.7 147.2h0M477.7 160.8h0M479.8 225.7h0M479.8 288.6h0M479.8 303.8h0M481.8 202.2h0M481.8 284.8h0M483.9 127.2h0M483.9 261.6h0M485.9 399.8h0M488.0 314.5h0M490.0 206.3h0M490.0 336.2h0M493.6 204.0h0M497.6 149.0h0M497.6 201.4h0M502.1 281.1h0M504.1 226.6h0M504.1 241.2h0M504.1 391.6h0M506.2 145.0h0M506.2 189.4h0M509.9 197.9h0M513.9 159.0h0M518.3 222.0h0M520.8 174.2h0M520.8 236.9h0M520.8 333.4h0M525.2 332.7h0M525.2 348.0h0M525.2 360.3h0M525.2 394.4h0M527.1 312.4h0M527.1 392.0h0M529.1 303.6h0M531.2 182.3h0M533.5 208.7h0M533.5 227.0h0M533.5 252.8h0M533.5 277.4h0M533.5 287.2h0M533.5 404.2h0M535.7 262.5h0M535.7 315.5h0M537.8 152.5h0M537.8 401.0h0M540.2 176.1h0M540.2 405.6h0M544.2 134.7h0M544.2 161.3h0M544.2 271.5h0M544.2 342.2h0M546.7 139.2h0M549.0 143.8h0M549.0 310.3h0M551.1 199.3h0M553.2 172.8h0M553.2 411.3h0M555.2 157.7h0M555.2 183.2h0M555.2 338.7h0M557.3 141.4h0M557.3 296.8h0M559.4 131.4h0M559.4 203.5h0M559.4 359.8h0M561.8 158.0h0M561.8 326.5h0M563.8 164.6h0M563.8 179.7h0M563.8 348.3h0M565.7 361.9h0M565.7 390.0h0M567.8 190.8h0M567.8 234.9h0M567.8 356.3h0M567.8 386.2h0M569.6 235.5h0M569.6 251.1h0M569.6 327.4h0M571.8 165.5h0M575.9 193.6h0M575.9 248.4h0M578.0 207.4h0M578.0 232.6h0M578.0 268.7h0M578.0 371.1h0M605.5 422.9h0M608.3 409.3h0M610.9 235.2h0M610.9 246.5h0M610.9 259.9h0M613.6 337.5h0M616.2 255.6h0M616.2 292.3h0M618.9 403.6h0M624.0 300.7h0M624.0 314.7h0M626.5 226.5h0M626.5 337.5h0M633.5 275.1h0M633.5 398.6h0M633.5 419.1h0M633.3 425.1h0M635.8 144.6h0M635.8 296.9h0M638.2 317.9h0M640.7 191.7h0M640.7 375.7h0M642.8 290.1h0M645.2 172.0h0M645.2 277.5h0M645.2 350.1h0M645.2 362.4h0M647.4 369.0h0M649.7 329.2h0M676.5 293.1h0M705.0 232.2h0M768.1 271.0h0M794.7 214.2h0M821.8 288.4h0M869.4 145.0h0M879.5 258.6h0M882.7 164.2h0M921.5 137.9h0M928.7 216.9h0M941.3 158.2h0M990.7 170.6h0M612.5 453.8h0"/>
<path stroke="rgb(194,234,183)" d="M224.5 131.0h0M235.8 138.2h0M239.2 119.6h0M242.5 145.1h0M259.5 131.6h0M263.5 129.9h0M268.0 151.4h0M272.0 133.8h0M272.0 146.5h0M272.0 155.8h0M275.5 136.6h0M279.5 126.8h0M283.5 149.4h0M287.5 136.6h0M287.5 150.0h0M302.5 147.5h0M302.5 157.7h0M306.8 185.8h0M310.8 128.3h0M310.8 144.3h0M315.2 162.7h0M328.0 149.1h0M333.0 134.0h0M333.0 191.1h0M337.5 170.0h0M337.5 181.2h0M337.5 193.2h0M342.5 191.1h0M347.5 128.0h0M347.5 143.0h0M347.5 174.2h0M347.5 240.7h0M347.5 298.3h0M348.2 313.6h0M352.5 122.5h0M352.5 136.3h0M352.5 290.7h0M363.0 168.3h0M368.0 133.9h0M368.0 153.7h0M368.0 233.8h0M368.0 250.3h0M368.0 267.8h0M368.0 311.4h0M373.2 151.1h0M373.2 186.5h0M373.2 197.0h0M373.2 218.9h0M373.2 294.9h0M373.2 309.9h0M373.2 321.9h0M374.1 337.0h0M378.2 140.8h0M378.2 192.4h0M378.2 225.8h0M378.2 236.7h0M378.2 257.4h0M378.2 302.8h0M378.2 317.4h0M378.5 329.1h0M383.2 225.1h0M383.2 261.2h0M383.2 291.7h0M383.2 321.1h0M388.8 185.5h0M388.8 316.3h0M388.8 331.9h0M396.8 328.9h0M396.7 322.6h0M402.0 224.8h0M402.0 293.1h0M405.8 336.6h0M405.4 331.9h0M412.0 198.5h0M411.7 342.6h0M417.5 271.0h0M438.4 353.9h0M441.5 362.9h0M504.1 195.7h0M618.9 304.8h0M640.7 358.7h0M515.5 427.5h0"/>
<path stroke="rgb(191,232,180)" d="M224.5 147.6h0M231.5 138.2h0M239.2 152.7h0M250.0 149.1h0M254.5 141.1h0M254.5 156.9h0M259.5 146.2h0M259.5 161.9h0M263.5 146.3h0M263.5 166.4h0M268.0 119.6h0M268.0 137.5h0M268.0 164.0h0M275.5 156.4h0M275.5 176.0h0M279.5 142.8h0M279.5 161.3h0M283.5 181.2h0M287.5 167.7h0M294.0 166.5h0M302.5 123.7h0M302.5 204.5h0M306.8 150.7h0M306.8 169.8h0M310.8 161.6h0M320.0 166.1h0M328.0 163.8h0M328.0 177.3h0M333.0 205.2h0M337.5 221.3h0M342.5 160.6h0M342.5 204.1h0M342.5 255.2h0M342.5 268.3h0M342.5 282.6h0M347.5 187.6h0M347.5 202.7h0M347.5 256.1h0M347.5 272.6h0M352.5 232.8h0M352.5 244.7h0M352.5 261.7h0M352.5 278.2h0M351.4 317.2h0M363.0 209.1h0M363.0 227.4h0M363.0 246.0h0M363.0 266.3h0M363.0 283.0h0M363.0 295.6h0M363.0 311.1h0M368.0 168.5h0M368.0 184.4h0M368.0 218.7h0M368.0 281.1h0M368.0 321.9h0M373.2 231.1h0M373.2 249.7h0M373.2 282.6h0M373.6 331.7h0M377.9 324.7h0M375.7 333.6h0M383.2 177.4h0M383.4 326.7h0"/>
<path stroke="rgb(189,230,177)" d="M224.5 168.3h0M231.5 157.8h0M235.8 155.0h0M239.2 165.7h0M239.2 177.3h0M242.5 179.7h0M246.8 155.0h0M250.0 166.3h0M254.5 173.2h0M254.5 183.3h0M259.5 173.0h0M272.0 188.7h0M275.5 123.0h0M275.5 187.6h0M279.5 192.1h0M279.5 205.4h0M283.5 168.4h0M283.5 192.4h0M287.5 186.4h0M298.2 161.6h0M298.2 174.7h0M298.2 185.8h0M298.2 200.8h0M298.2 216.4h0M302.5 176.3h0M302.5 192.9h0M306.8 204.3h0M310.8 179.5h0M310.8 193.2h0M310.8 208.8h0M315.2 176.6h0M315.2 187.5h0M315.2 200.3h0M315.2 216.2h0M315.2 292.3h0M320.0 185.7h0M320.0 220.9h0M320.0 244.2h0M320.0 261.7h0M328.0 201.4h0M328.0 230.4h0M328.0 250.6h0M328.0 266.3h0M333.0 178.8h0M333.0 222.5h0M333.0 250.9h0M337.5 206.9h0M337.5 268.5h0M337.5 280.0h0M337.5 291.1h0M337.5 311.2h0M342.5 235.6h0M342.5 315.2h0M347.5 285.5h0M352.5 206.2h0M352.5 221.5h0M350.8 313.9h0M352.4 312.3h0M363.0 199.0h0M362.2 319.4h0M361.8 321.2h0M368.2 324.2h0M368.2 316.7h0M371.2 331.9h0"/>
<path stroke="rgb(186,228,174)" d="M224.5 180.2h0M231.5 175.7h0M242.5 156.8h0M246.8 170.6h0M250.0 184.1h0M259.5 184.7h0M259.5 202.2h0M263.5 187.6h0M263.5 211.5h0M268.0 199.7h0M272.0 174.6h0M275.5 202.8h0M279.5 172.8h0M283.5 211.5h0M287.5 198.1h0M294.0 177.6h0M298.2 264.4h0M298.2 286.6h0M302.5 237.9h0M302.5 279.1h0M306.8 231.0h0M310.8 229.2h0M315.2 230.0h0M315.2 244.1h0M315.2 269.3h0M315.4 301.8h0M320.0 199.3h0M320.0 232.7h0M320.0 274.5h0M320.0 292.3h0M328.0 217.4h0M328.0 282.9h0M325.8 301.7h0M333.0 235.6h0M333.0 266.0h0M333.0 278.5h0M332.8 307.8h0M337.5 237.2h0M342.5 217.4h0M342.5 296.6h0M342.1 319.4h0M341.1 315.8h0M352.5 311.6h0"/>
<path stroke="rgb(183,226,171)" d="M215.8 133.0h0M224.5 193.9h0M231.5 186.8h0M231.5 202.1h0M235.8 173.1h0M242.5 187.9h0M242.5 206.7h0M246.8 184.6h0M246.8 195.6h0M250.0 201.7h0M254.5 194.9h0M259.5 221.6h0M263.5 199.5h0M268.0 183.7h0M268.0 213.8h0M272.0 202.6h0M275.5 226.4h0M279.5 221.9h0M287.5 225.6h0M294.0 195.2h0M294.0 209.5h0M294.0 225.7h0M298.2 230.4h0M298.2 250.6h0M302.5 225.2h0M302.5 267.5h0M301.9 285.5h0M306.8 248.0h0M306.8 263.1h0M306.8 277.5h0M306.3 284.6h0M306.1 288.8h0M310.8 248.3h0M310.8 267.1h0M315.2 258.5h0M316.8 295.0h0M316.4 303.6h0M328.0 301.3h0M329.3 304.4h0M328.9 307.4h0M333.0 291.2h0M333.0 305.1h0M331.5 308.5h0M333.3 302.2h0M337.5 254.6h0M336.2 312.0h0M336.8 313.2h0M346.7 314.2h0"/>
<path stroke="rgb(181,225,168)" d="M235.8 189.1h0M235.8 202.8h0M239.2 193.7h0M239.2 206.4h0M239.2 219.9h0M246.8 207.6h0M259.5 234.6h0M268.0 231.9h0M268.0 274.2h0M268.1 280.0h0M272.0 217.4h0M272.0 245.1h0M272.0 272.4h0M275.5 215.5h0M279.5 240.8h0M279.5 259.4h0M279.3 270.1h0M278.9 267.5h0M283.5 229.4h0M283.5 239.4h0M283.5 257.7h0M287.5 211.0h0M287.5 236.0h0M287.5 264.8h0M294.0 243.0h0M294.0 254.0h0M294.0 267.4h0M294.0 277.7h0M294.2 287.0h0M302.5 250.6h0M301.8 284.7h0M306.8 220.0h0M306.8 291.4h0M310.8 278.5h0M310.8 285.5h0M311.0 293.4h0M308.9 288.0h0M315.9 295.8h0M314.6 299.8h0M316.7 299.5h0M321.6 304.2h0M318.1 297.2h0M319.6 304.2h0M326.4 307.9h0M332.0 307.5h0"/>
<path stroke="rgb(178,223,166)" d="M224.5 206.4h0M224.5 219.9h0M231.5 217.7h0M235.8 220.4h0M242.5 220.0h0M250.0 216.4h0M250.0 243.2h0M254.5 211.7h0M259.5 263.4h0M263.5 224.7h0M263.5 243.2h0M268.8 283.3h0M272.0 232.1h0M272.0 260.7h0M272.1 279.9h0M275.5 245.5h0M275.5 261.6h0M275.9 275.9h0M283.5 273.7h0M287.5 246.9h0M285.7 271.2h0M294.5 289.6h0M301.3 278.1h0M304.6 281.5h0M305.1 282.0h0M308.1 290.9h0M312.0 286.7h0M320.2 292.6h0"/>
<path stroke="rgb(175,221,163)" d="M215.8 168.0h0M224.5 254.4h0M235.8 234.6h0M239.2 237.3h0M239.2 255.2h0M242.5 250.2h0M246.8 246.0h0M246.8 261.1h0M250.0 229.3h0M250.0 254.0h0M250.0 271.4h0M254.5 234.7h0M254.5 252.9h0M254.5 268.4h0M254.5 279.2h0M259.5 247.0h0M259.7 276.1h0M263.5 254.7h0M263.5 272.6h0M262.2 277.2h0M268.0 244.4h0M268.0 254.2h0M267.4 280.6h0M269.0 284.9h0M267.5 284.0h0M269.9 280.1h0M270.4 277.6h0M275.8 276.9h0M280.5 264.8h0M284.4 267.2h0M283.6 273.5h0M283.5 272.9h0M283.5 273.6h0M287.0 273.5h0M296.1 283.6h0M292.9 284.6h0M297.7 290.4h0M302.6 278.5h0M308.1 292.3h0M305.5 290.7h0"/>
<path stroke="rgb(172,219,160)" d="M215.8 191.0h0M223.0 275.3h0M223.5 266.0h0M224.5 240.9h0M224.5 273.4h0M224.3 266.3h0M231.5 233.4h0M231.5 250.0h0M231.4 267.1h0M239.3 264.2h0M242.5 238.4h0M246.8 226.5h0M246.8 267.0h0M246.9 263.7h0M247.3 270.0h0M250.0 272.7h0M253.9 271.6h0M248.9 267.5h0M254.5 222.9h0M256.0 279.1h0M253.6 277.5h0M260.1 281.9h0M261.4 285.4h0M265.8 275.8h0M262.8 286.0h0M265.7 280.0h0M273.6 275.4h0M274.6 270.6h0M279.5 273.4h0M294.5 287.1h0M299.4 283.4h0"/>
<path stroke="rgb(170,218,157)" d="M229.6 269.9h0M231.3 267.7h0M235.8 251.6h0M235.8 263.5h0M237.8 270.4h0M239.7 271.1h0M239.6 261.4h0M247.7 261.9h0M260.0 278.9h0M262.2 278.0h0"/>
<path stroke="rgb(167,216,154)" d="M226.1 266.0h0M224.1 276.3h0M223.6 272.5h0M237.5 261.4h0M235.4 268.7h0M235.7 272.0h0M236.7 268.5h0M239.8 258.2h0M237.5 262.3h0M243.5 264.6h0M244.9 263.8h0M242.4 269.3h0M246.7 264.3h0M255.4 282.3h0"/>
<path stroke="rgb(164,214,151)" d="M215.8 218.5h0M224.2 266.1h0"/>
<path stroke="rgb(161,212,149)" d="M215.8 240.7h0M215.8 263.0h0M215.8 279.0h0M215.8 286.3h0"/>
<path stroke="rgb(139,199,128)" d="M589.3 452.5h0"/>
<path stroke="rgb(85,174,91)" d="M516.0 431.5h0"/>
<path stroke="rgb(21,147,79)" d="M610.7 455.2h0"/>
<path stroke="rgb(19,41,24)" d="M580.5 454.7h0"/>
</g>
<path clip-path="url(#ac)" stroke="#000" stroke-width="1" fill="none" shape-rendering="crispEdges" d="M215 269h1M215 274h1M216 273h1M217 276h1M226 289h1M227 290h1M230 280h1M230 284h1M230 286h1M231 285h1M232 286h1M233 286h1M235 281h1M235 285h1M238 287h1M239 280h1M240 286h1M241 286h1M241 288h1M242 284h1M242 285h1M243 288h1M244 289h1M244 291h1M249 293h1M250 294h1M252 295h1M253 295h1M255 295h1M257 296h1M257 297h1M258 294h1M259 292h1M259 297h1M260 297h1M262 299h1M263 295h1M263 300h1M265 298h1M265 299h1M266 299h1M268 296h1M268 301h1M273 296h1M273 298h1M274 298h1M275 297h1M276 289h1M277 292h1M278 294h1M279 290h1M280 289h1M280 291h1M280 294h1M282 295h1M285 300h1M286 298h1M287 301h1M288 304h1M288 305h1M289 299h1M289 303h1M289 304h1M290 302h1M290 305h1M291 303h1M291 304h1M291 308h1M293 310h1M296 312h1M296 314h1M297 311h1M297 318h1M298 312h1M300 315h1M301 310h1M302 310h1M302 311h1M303 306h1M304 310h1M305 303h1M305 306h1M306 308h1M308 307h1M309 303h1M309 306h1M311 312h1M312 316h1M313 317h1M314 319h1M315 322h1M318 320h1M318 322h1M319 319h1M322 317h1M323 319h1M326 325h1M328 322h1M328 328h1M329 323h1M329 324h1M329 325h1M330 327h1M330 328h1M331 329h1M331 331h1M332 332h1M334 333h1M334 335h1M335 330h1M336 334h1M336 338h1M337 332h1M339 334h1M340 331h1M341 332h1M341 335h1M342 335h1M343 336h1M343 340h1M346 338h1M347 335h1M348 336h1M349 334h1M351 334h1M352 338h1M352 339h1M352 346h1M353 338h1M355 336h1M355 340h1M356 339h1M357 343h1M358 339h1M360 346h1M361 335h1M361 338h1M361 341h1M362 325h1M362 336h1M362 341h1M362 346h1M363 345h1M364 343h1M365 342h1M366 346h1M367 350h1M369 346h1M369 350h1M370 345h1M372 352h1M373 353h1M375 352h1M375 353h1M376 350h1M377 352h1M377 357h1M378 351h1M379 351h1M379 352h1M381 345h1M381 346h1M384 346h1M385 350h1M386 339h1M386 352h1M386 354h1M388 354h1M389 347h1M390 347h1M390 349h1M391 345h1M391 355h1M392 353h1M393 350h1M395 349h1M396 347h1M397 344h1M397 349h1M399 347h1M404 355h1M408 360h1M408 361h1M411 356h1M412 362h1M413 361h1M414 360h1M415 362h1M417 361h1M419 362h1M420 364h1M420 368h1M421 359h1M421 362h1M423 358h1M423 361h1M423 364h1M424 371h1M425 364h1M425 365h1M425 367h1M427 367h1M428 368h1M428 369h1M428 372h1M428 373h1M428 376h1M429 375h1M429 377h1M431 378h1M431 381h1M434 385h1M435 388h1M438 385h1M438 388h1M441 382h1M441 386h1M443 383h1M444 390h1M445 389h1M446 386h1M447 390h1M449 393h1M450 391h1M450 393h1M450 395h1M450 397h1M453 398h1M453 404h1M457 399h1M458 401h1M459 396h1M459 397h1M459 403h1M460 399h1M462 404h1M463 400h1M464 402h1M465 396h1M465 399h1M466 396h1M466 398h1M467 393h1M469 399h1M469 401h1M470 400h1M470 401h1M472 402h1M472 405h1M475 393h1M475 411h1M476 412h1M477 411h1M477 413h1M477 415h1M477 416h1M480 409h1M481 406h1M481 407h1M482 407h1M482 410h1M483 409h1M483 412h1M484 407h1M485 405h1M485 417h1M486 410h1M486 416h1M487 408h1M487 409h1M487 410h1M487 413h1M487 418h1M491 414h1M492 401h1M492 407h1M492 414h1M493 402h1M493 410h1M495 409h1M495 410h1M495 411h1M496 410h1M497 410h1M498 408h1M499 405h1M499 408h1M502 406h1M502 411h1M503 408h1M503 409h1M503 414h1M503 415h1M504 410h1M506 406h1M507 409h1M508 413h1M510 412h1M511 412h1M511 417h1M511 429h1M512 412h1M513 413h1M513 414h1M514 419h1M515 415h1M515 416h1M518 412h1M519 415h1M519 417h1M520 411h1M521 414h1M522 414h1M522 415h1M522 416h1M523 421h1M525 408h1M525 417h1M525 431h1M526 414h1M526 416h1M527 416h1M527 419h1M527 420h1M528 414h1M530 416h1M530 419h1M530 425h1M532 428h1M533 423h1M533 427h1M538 427h1M539 431h1M540 426h1M540 428h1M540 432h1M540 434h1M546 437h1M549 431h1M550 430h1M552 434h1M553 424h1M553 434h1M554 422h1M554 424h1M554 428h1M555 431h1M556 426h1M556 427h1M556 430h1M556 435h1M557 425h1M558 426h1M561 420h1M561 427h1M561 429h1M563 423h1M563 424h1M564 425h1M565 428h1M565 433h1M566 426h1M566 432h1M567 427h1M568 427h1M568 432h1M571 434h1M573 434h1M574 437h1M575 433h1M577 433h1M577 436h1M577 437h1M578 436h1M579 441h1M579 444h1M580 435h1M580 438h1M581 439h1M581 440h1M582 434h1M582 439h1M583 437h1M584 441h1M585 439h1M585 441h1M586 435h1M588 444h1M589 437h1M589 438h1M589 439h1M589 441h1M589 445h1M591 445h1M592 437h1M592 440h1M593 434h1M594 433h1M595 435h1M595 436h1M595 437h1M596 434h1M597 438h1M598 441h1M599 436h1M599 439h1M602 442h1M602 443h1M603 445h1M604 443h1M605 449h1M607 449h1M608 445h1M609 448h1M610 445h1M610 447h1M611 443h1M613 444h1M615 438h1M615 443h1M615 450h1M617 444h1M618 438h1M618 442h1M621 437h1M621 445h1M622 439h1M622 445h1M623 442h1M624 435h1M624 439h1M625 437h1M626 444h1M626 445h1M627 438h1M628 445h1M629 440h1M630 450h1M631 442h1M631 446h1M637 450h1M638 449h1M642 457h1M643 454h1M643 456h1M643 458h1M644 456h1M644 458h1M646 458h1M646 465h1M648 452h1M648 453h1M648 466h1M649 452h1M650 450h1M650 455h1M651 452h1M651 454h1M651 457h1M652 454h1M654 455h1M655 449h1M657 451h1M658 449h1M659 448h1M660 451h1M662 450h1M666 460h1M667 457h1M667 460h1M667 463h1M668 459h1M670 459h1M670 462h1M670 464h1M672 457h1M673 465h1M674 462h1M674 468h1M675 467h1M677 463h1M677 469h1M678 463h1M681 459h1M682 463h1M682 464h1M682 465h1M683 460h1M683 463h1M684 463h1M684 466h1M685 459h1M686 461h1M686 463h1M688 440h1M690 462h1M690 463h1M692 456h1M693 457h1M693 459h1M694 453h1M695 452h1M695 455h1M695 456h1M697 451h1M697 455h1M698 451h1M698 456h1M700 449h1M700 456h1M700 457h1M702 447h1M702 451h1M702 455h1M703 449h1M703 454h1M704 451h1M706 457h1M707 449h1M707 455h1M708 447h1M708 448h1M708 450h1M709 451h1M712 453h1M713 450h1M714 448h1M714 450h1M715 449h1M715 452h1M715 455h1M716 445h1M716 446h1M716 447h1M716 450h1M717 444h1M717 446h1M717 451h1M718 441h1M718 442h1M718 443h1M719 439h1M721 442h1M722 440h1M723 436h1M724 436h1M724 439h1M725 440h1M726 435h1M726 441h1M727 441h1M727 444h1M728 439h1M728 440h1M728 443h1M728 448h1M729 442h1M729 447h1M731 444h1M733 442h1M733 443h1M734 448h1M735 445h1M735 447h1M739 450h1M739 451h1M739 452h1M740 444h1M740 447h1M741 445h1M741 448h1M742 445h1M744 439h1M745 445h1M745 446h1M749 436h1M749 440h1M749 445h1M750 449h1M751 440h1M751 443h1M751 444h1M751 450h1M753 438h1M753 443h1M753 444h1M754 440h1M755 434h1M755 440h1M755 442h1M756 447h1M757 434h1M757 438h1M758 441h1M758 445h1M759 437h1M759 443h1M760 441h1M761 438h1M761 439h1M761 440h1M762 440h1M763 438h1M763 441h1M764 435h1M766 433h1M766 440h1M767 433h1M767 436h1M767 437h1M768 434h1M768 436h1M768 437h1M769 431h1M769 432h1M769 436h1M771 429h1M773 428h1M773 431h1M773 434h1M774 434h1M775 427h1M776 428h1M779 431h1M779 435h1M783 423h1M783 429h1M783 432h1M784 424h1M784 430h1M785 431h1M786 424h1M787 424h1M788 421h1M788 422h1M788 423h1M788 426h1M789 420h1M789 427h1M791 421h1M792 415h1M792 420h1M793 416h1M793 418h1M793 419h1M794 414h1M794 420h1M795 415h1M795 417h1M796 418h1M797 416h1M797 418h1M797 420h1M798 415h1M798 417h1M798 422h1M800 418h1M801 421h1M801 425h1M802 420h1M802 423h1M803 428h1M803 430h1M804 425h1M805 419h1M805 424h1M807 426h1M810 421h1M811 416h1M811 417h1M812 414h1M812 416h1M812 420h1M812 422h1M814 417h1M814 419h1M818 419h1M819 415h1M819 420h1M819 423h1M820 419h1M820 423h1M821 420h1M821 426h1M822 423h1M822 425h1M823 416h1M823 417h1M823 420h1M824 416h1M824 422h1M826 417h1M827 411h1M827 415h1M827 416h1M828 413h1M831 410h1M831 414h1M833 415h1M834 410h1M836 400h1M836 407h1M838 410h1M838 411h1M840 414h1M843 414h1M843 415h1M844 413h1M844 417h1M845 407h1M845 413h1M846 409h1M847 405h1M849 401h1M851 396h1M851 398h1M851 405h1M852 405h1M855 396h1M856 395h1M856 398h1M857 393h1M857 398h1M858 391h1M858 395h1M858 399h1M859 391h1M859 395h1M859 398h1M860 396h1M860 397h1M860 399h1M864 402h1M865 395h1M866 397h1M866 400h1M866 401h1M866 404h1M867 406h1M868 397h1M868 398h1M868 402h1M869 399h1M870 395h1M871 397h1M872 393h1M872 394h1M873 394h1M874 388h1M874 394h1M875 393h1M875 394h1M875 397h1M876 387h1M876 389h1M877 392h1M877 393h1M879 373h1M881 385h1M882 378h1M882 382h1M883 382h1M883 387h1M884 381h1M884 385h1M885 386h1M887 385h1M887 387h1M887 389h1M887 395h1M888 383h1M890 386h1M890 390h1M891 389h1M891 392h1M892 400h1M893 385h1M893 386h1M894 382h1M895 387h1M895 388h1M896 381h1M896 383h1M899 384h1M899 386h1M900 386h1M901 379h1M901 383h1M902 387h1M903 388h1M905 386h1M905 389h1M906 383h1M906 384h1M907 388h1M909 389h1M910 387h1M911 384h1M912 387h1M912 388h1M913 377h1M913 384h1M914 376h1M914 377h1M914 379h1M917 382h1M920 383h1M920 385h1M921 384h1M921 385h1M923 385h1M926 385h1M926 388h1M926 389h1M926 392h1M930 388h1M930 389h1M930 395h1M931 388h1M931 390h1M933 383h1M933 384h1M934 382h1M936 383h1M937 383h1M938 375h1M938 379h1M938 381h1M938 382h1M940 378h1M940 382h1M941 377h1M942 373h1M942 375h1M943 373h1M943 375h1M943 380h1M946 378h1M947 377h1M947 384h1M948 379h1M949 377h1M949 378h1M953 372h1M954 368h1M954 379h1M955 368h1M956 367h1M957 363h1M957 366h1M959 366h1M960 366h1M960 367h1M962 359h1M963 360h1M964 360h1M964 367h1M965 360h1M965 366h1M966 352h1M966 355h1M967 350h1M967 354h1M967 357h1M967 359h1M968 356h1M968 357h1M969 353h1M969 355h1M971 348h1M971 349h1M972 349h1M972 353h1M973 355h1M974 355h1M974 360h1M975 349h1M975 352h1M975 353h1M976 355h1M976 358h1M977 351h1M977 353h1M977 356h1M979 351h1M979 355h1M979 359h1M980 358h1M980 360h1M981 353h1M982 353h1M982 354h1M983 348h1M984 346h1M985 352h1M986 348h1M986 349h1M986 351h1M987 347h1M987 351h1M988 344h1M988 347h1M989 343h1M989 345h1M989 346h1M989 347h1M989 349h1M990 353h1M991 347h1M991 349h1M991 352h1M991 354h1M991 356h1M992 342h1M992 344h1M992 349h1M993 342h1M994 345h1M995 343h1M995 354h1M996 346h1M997 345h1M999 347h1M999 349h1M1000 342h1M1000 343h1M1000 345h1M1000 347h1M1001 343h1M1001 344h1M1003 346h1" transform="translate(0,0.5)"/>
<g id="logo">
<text class="lg" x="181.3" y="497.9" font-size="22.8" textLength="34.6" stroke="#0d47a1" stroke-width="0.7" lengthAdjust="spacingAndGlyphs" style="font-family:'DejaVu Sans','Liberation Sans',sans-serif">M</text>
<text class="lg" x="236.6" y="497.9" font-size="22.8" textLength="36.2" stroke="#0d47a1" stroke-width="0.5" lengthAdjust="spacingAndGlyphs" style="font-family:'DejaVu Sans','Liberation Sans',sans-serif">TE</text>
<circle cx="226.5" cy="489.2" r="8.6" fill="#fff" stroke="#0d47a1" stroke-width="1.5"/>
<circle cx="226.5" cy="489.2" r="7.6" fill="none" stroke="#0d47a1" stroke-width="1.3" stroke-dasharray="1.1 0.9"/>
<circle cx="226.5" cy="489.2" r="6.6" fill="#2a96d8"/>
<path fill="#0d47a1" d="M240.8 489.2C238 488.9 235 488.5 232 488L229 487.5C227.8 486 226.6 484.3 225.6 483.1C225.2 484.8 224.4 486.6 223.4 488C221 488.6 218.5 489.3 215 489.7C216.5 490.3 216.8 490.7 215.2 491.8C218 491.9 220.5 491.7 222.6 491.2C223 492.6 223.4 494 223.8 495.1C224.8 493.9 225.8 492.5 226.6 491.3C229.5 491.4 233 491.3 236 490.7C238 490.3 239.6 489.8 240.8 489.2Z"/>
<path stroke="#cfe6f7" stroke-width="0.7" fill="none" d="M225.5 490.4h4.5M217.5 491.2h3.5"/>
<text class="lg" x="181.2" y="505.1" font-size="6.7" textLength="90.2" lengthAdjust="spacing" stroke="#0d47a1" stroke-width="0.25" style="font-family:'DejaVu Sans','Liberation Sans',sans-serif">MARINE LABORATORY</text>
</g>

<g stroke="#000" stroke-width="1.11" fill="none">
<rect x="175.5" y="72.5" width="868" height="438"/>
<path d="M187.5 510.5v4.9M289.5 510.5v4.9M391.5 510.5v4.9M494.5 510.5v4.9M596.5 510.5v4.9M698.5 510.5v4.9M800.5 510.5v4.9M903.5 510.5v4.9M1005.5 510.5v4.9"/>
<path d="M175.5 72.5h-4.9M175.5 125.5h-4.9M175.5 178.5h-4.9M175.5 232.5h-4.9M175.5 285.5h-4.9M175.5 338.5h-4.9M175.5 391.5h-4.9M175.5 445.5h-4.9M175.5 498.5h-4.9"/>
</g>
<text x="165.5" y="78" font-size="13.889" text-anchor="end">0</text>
<text x="165.5" y="131" font-size="13.889" text-anchor="end">5</text>
<text x="165.5" y="184" font-size="13.889" text-anchor="end">10</text>
<text x="165.5" y="237" font-size="13.889" text-anchor="end">15</text>
<text x="165.5" y="290" font-size="13.889" text-anchor="end">20</text>
<text x="165.5" y="344" font-size="13.889" text-anchor="end">25</text>
<text x="165.5" y="397" font-size="13.889" text-anchor="end">30</text>
<text x="165.5" y="450" font-size="13.889" text-anchor="end">35</text>
<text x="165.5" y="503" font-size="13.889" text-anchor="end">40</text>
<text transform="translate(180.35 541.90) rotate(-45)" font-size="8.333">01/13</text>
<text transform="translate(282.59 541.90) rotate(-45)" font-size="8.333">01/14</text>
<text transform="translate(384.83 541.90) rotate(-45)" font-size="8.333">01/14</text>
<text transform="translate(487.07 541.90) rotate(-45)" font-size="8.333">01/15</text>
<text transform="translate(589.31 541.90) rotate(-45)" font-size="8.333">01/15</text>
<text transform="translate(691.55 541.90) rotate(-45)" font-size="8.333">01/16</text>
<text transform="translate(793.79 541.90) rotate(-45)" font-size="8.333">01/16</text>
<text transform="translate(896.03 541.90) rotate(-45)" font-size="8.333">01/17</text>
<text transform="translate(998.27 541.90) rotate(-45)" font-size="8.333">01/17</text>
<text transform="translate(609.6 563) scale(1 1.07)" font-size="16.667" text-anchor="middle">Date</text>
<text transform="translate(138.2 292.3) rotate(-90)" font-size="13.889" text-anchor="middle">Depth (m)</text>
<text transform="translate(608.6 40) scale(1 1.07)" font-size="16.667" text-anchor="middle">mote-dora 2025-01-13 to 2025-01-17</text>
<text transform="translate(531.2 65.4) scale(1 1.07)"><tspan x="0.00" y="-1.22" font-size="16.667">Chlorophyll (</tspan><tspan x="106.31" y="1.52" class="i" font-size="11.667">u</tspan><tspan x="114.16" y="-1.22" class="i" font-size="16.667">gm</tspan><tspan x="140.98" y="-1.22" font-size="16.667">/</tspan><tspan x="146.59" y="-1.22" class="i" font-size="16.667">L</tspan><tspan x="155.88" y="-1.22" font-size="16.667">)</tspan></text>
<rect x="1097.5" y="72.5" width="22" height="438" fill="url(#cg)" stroke="#000" stroke-width="1.11"/>
<path stroke="#000" stroke-width="1.11" d="M1119.5 434.5h4.9M1119.5 343.5h4.9M1119.5 253.5h4.9M1119.5 162.5h4.9M1119.5 72.5h4.9"/>
<text x="1128.9" y="439.28" font-size="13.889">1</text>
<text x="1128.9" y="348.28" font-size="13.889">2</text>
<text x="1128.9" y="258.28" font-size="13.889">3</text>
<text x="1128.9" y="167.28" font-size="13.889">4</text>
<text x="1128.9" y="77.28" font-size="13.889">5</text>
<text transform="translate(1155.5 318.8) rotate(-90)"><tspan x="0.00" y="-0.56" font-size="13.889">(</tspan><tspan x="5.55" y="1.71" class="i" font-size="9.722">u</tspan><tspan x="12.09" y="-0.56" class="i" font-size="13.889">gm</tspan><tspan x="34.45" y="-0.56" font-size="13.889">/</tspan><tspan x="39.13" y="-0.56" class="i" font-size="13.889">L</tspan><tspan x="46.86" y="-0.56" font-size="13.889">)</tspan></text>
</svg>
</body></html>
